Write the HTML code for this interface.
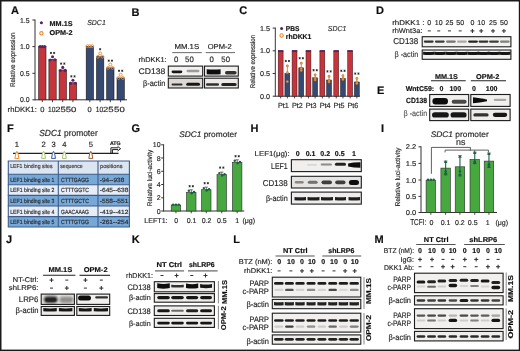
<!DOCTYPE html>
<html><head><meta charset="utf-8"><title>Figure</title>
<style>
html,body{margin:0;padding:0;background:#fff;}
body{width:520px;height:351px;overflow:hidden;}
svg{display:block;font-family:"Liberation Sans",sans-serif;}
text{stroke-width:0.16px;text-rendering:geometricPrecision;}
</style></head><body>
<svg width="520" height="351" viewBox="0 0 520 351">
<defs>
<filter id="gb" x="0" y="0" width="520" height="351" filterUnits="userSpaceOnUse"><feGaussianBlur stdDeviation="0.35"/></filter>
<filter id="b1" x="-50%" y="-200%" width="200%" height="500%"><feGaussianBlur stdDeviation="0.7"/></filter>
<filter id="b2" x="-50%" y="-200%" width="200%" height="500%"><feGaussianBlur stdDeviation="1.1"/></filter>
</defs>
<rect x="0" y="0" width="520" height="351" fill="#fff"/>
<g filter="url(#gb)">
<text x="11" y="13.8" font-size="11" font-weight="bold" fill="#111" stroke="#111" stroke-width="0.35">A</text>
<line x1="35" y1="19.5" x2="35" y2="100.3" stroke="#333" stroke-width="1" />
<line x1="32.4" y1="20" x2="35" y2="20" stroke="#333" stroke-width="1" />
<text x="29.6" y="22.5" font-size="7" text-anchor="end" fill="#262626" stroke="#262626" textLength="9.6" lengthAdjust="spacingAndGlyphs">1.5</text>
<line x1="32.4" y1="46.6" x2="35" y2="46.6" stroke="#333" stroke-width="1" />
<text x="29.6" y="49.1" font-size="7" text-anchor="end" fill="#262626" stroke="#262626" textLength="9.6" lengthAdjust="spacingAndGlyphs">1.0</text>
<line x1="32.4" y1="73.3" x2="35" y2="73.3" stroke="#333" stroke-width="1" />
<text x="29.6" y="75.8" font-size="7" text-anchor="end" fill="#262626" stroke="#262626" textLength="9.6" lengthAdjust="spacingAndGlyphs">0.5</text>
<line x1="32.4" y1="99.8" x2="35" y2="99.8" stroke="#333" stroke-width="1" />
<text x="29.6" y="102.3" font-size="7" text-anchor="end" fill="#262626" stroke="#262626" textLength="9.6" lengthAdjust="spacingAndGlyphs">0.0</text>
<line x1="35" y1="99.8" x2="127" y2="99.8" stroke="#333" stroke-width="1" />
<text x="14.83" y="59.8" font-size="6.8" text-anchor="middle" transform="rotate(-90 14.83 59.8)" fill="#262626" stroke="#262626" textLength="54.5" lengthAdjust="spacingAndGlyphs">Relative expression</text>
<rect x="38.7" y="46.6" width="7.3" height="53.2" fill="#c6343a" stroke="#2a1a1a" stroke-width="0.6"/>
<rect x="48.9" y="59.37" width="7.3" height="40.43" fill="#c6343a" stroke="#2a1a1a" stroke-width="0.6"/>
<rect x="59.1" y="70.01" width="7.3" height="29.79" fill="#c6343a" stroke="#2a1a1a" stroke-width="0.6"/>
<rect x="69.3" y="82.78" width="7.3" height="17.02" fill="#c6343a" stroke="#2a1a1a" stroke-width="0.6"/>
<rect x="86.2" y="46.6" width="7.3" height="53.2" fill="#344a72" stroke="#1a1a1a" stroke-width="0.6"/>
<rect x="96.5" y="56.71" width="7.3" height="43.09" fill="#344a72" stroke="#1a1a1a" stroke-width="0.6"/>
<rect x="106.7" y="67.88" width="7.3" height="31.92" fill="#344a72" stroke="#1a1a1a" stroke-width="0.6"/>
<rect x="117" y="77.99" width="7.3" height="21.81" fill="#344a72" stroke="#1a1a1a" stroke-width="0.6"/>
<circle cx="40.05" cy="46.6" r="1.55" fill="#55275f"/>
<circle cx="42.35" cy="46.6" r="1.55" fill="#55275f"/>
<circle cx="44.65" cy="46.6" r="1.55" fill="#55275f"/>
<circle cx="50.15" cy="59.97" r="1.55" fill="#55275f"/>
<circle cx="52.55" cy="56.77" r="1.55" fill="#55275f"/>
<circle cx="54.95" cy="59.77" r="1.55" fill="#55275f"/>
<circle cx="60.35" cy="70.61" r="1.55" fill="#55275f"/>
<circle cx="62.75" cy="67.41" r="1.55" fill="#55275f"/>
<circle cx="65.15" cy="70.41" r="1.55" fill="#55275f"/>
<circle cx="70.55" cy="83.38" r="1.55" fill="#55275f"/>
<circle cx="72.95" cy="80.18" r="1.55" fill="#55275f"/>
<circle cx="75.35" cy="83.18" r="1.55" fill="#55275f"/>
<circle cx="87.45" cy="46.2" r="1.45" fill="none" stroke="#ec8a2c" stroke-width="0.9"/>
<circle cx="89.85" cy="46.2" r="1.45" fill="none" stroke="#ec8a2c" stroke-width="0.9"/>
<circle cx="92.25" cy="46.2" r="1.45" fill="none" stroke="#ec8a2c" stroke-width="0.9"/>
<circle cx="97.95" cy="56.71" r="1.45" fill="none" stroke="#ec8a2c" stroke-width="0.9"/>
<circle cx="100.15" cy="53.41" r="1.45" fill="none" stroke="#ec8a2c" stroke-width="0.9"/>
<circle cx="102.35" cy="56.71" r="1.45" fill="none" stroke="#ec8a2c" stroke-width="0.9"/>
<circle cx="108.15" cy="67.88" r="1.45" fill="none" stroke="#ec8a2c" stroke-width="0.9"/>
<circle cx="110.35" cy="64.58" r="1.45" fill="none" stroke="#ec8a2c" stroke-width="0.9"/>
<circle cx="112.55" cy="67.88" r="1.45" fill="none" stroke="#ec8a2c" stroke-width="0.9"/>
<circle cx="118.45" cy="77.99" r="1.45" fill="none" stroke="#ec8a2c" stroke-width="0.9"/>
<circle cx="120.65" cy="74.69" r="1.45" fill="none" stroke="#ec8a2c" stroke-width="0.9"/>
<circle cx="122.85" cy="77.99" r="1.45" fill="none" stroke="#ec8a2c" stroke-width="0.9"/>
<line x1="50.95" y1="51.87" x2="50.95" y2="54.07" stroke="#222" stroke-width="0.75" transform="rotate(0 50.95 52.97)"/>
<line x1="50.95" y1="51.87" x2="50.95" y2="54.07" stroke="#222" stroke-width="0.75" transform="rotate(60 50.95 52.97)"/>
<line x1="50.95" y1="51.87" x2="50.95" y2="54.07" stroke="#222" stroke-width="0.75" transform="rotate(120 50.95 52.97)"/>
<line x1="54.15" y1="51.87" x2="54.15" y2="54.07" stroke="#222" stroke-width="0.75" transform="rotate(0 54.15 52.97)"/>
<line x1="54.15" y1="51.87" x2="54.15" y2="54.07" stroke="#222" stroke-width="0.75" transform="rotate(60 54.15 52.97)"/>
<line x1="54.15" y1="51.87" x2="54.15" y2="54.07" stroke="#222" stroke-width="0.75" transform="rotate(120 54.15 52.97)"/>
<line x1="61.15" y1="62.51" x2="61.15" y2="64.71" stroke="#222" stroke-width="0.75" transform="rotate(0 61.15 63.61)"/>
<line x1="61.15" y1="62.51" x2="61.15" y2="64.71" stroke="#222" stroke-width="0.75" transform="rotate(60 61.15 63.61)"/>
<line x1="61.15" y1="62.51" x2="61.15" y2="64.71" stroke="#222" stroke-width="0.75" transform="rotate(120 61.15 63.61)"/>
<line x1="64.35" y1="62.51" x2="64.35" y2="64.71" stroke="#222" stroke-width="0.75" transform="rotate(0 64.35 63.61)"/>
<line x1="64.35" y1="62.51" x2="64.35" y2="64.71" stroke="#222" stroke-width="0.75" transform="rotate(60 64.35 63.61)"/>
<line x1="64.35" y1="62.51" x2="64.35" y2="64.71" stroke="#222" stroke-width="0.75" transform="rotate(120 64.35 63.61)"/>
<line x1="71.35" y1="75.28" x2="71.35" y2="77.48" stroke="#222" stroke-width="0.75" transform="rotate(0 71.35 76.38)"/>
<line x1="71.35" y1="75.28" x2="71.35" y2="77.48" stroke="#222" stroke-width="0.75" transform="rotate(60 71.35 76.38)"/>
<line x1="71.35" y1="75.28" x2="71.35" y2="77.48" stroke="#222" stroke-width="0.75" transform="rotate(120 71.35 76.38)"/>
<line x1="74.55" y1="75.28" x2="74.55" y2="77.48" stroke="#222" stroke-width="0.75" transform="rotate(0 74.55 76.38)"/>
<line x1="74.55" y1="75.28" x2="74.55" y2="77.48" stroke="#222" stroke-width="0.75" transform="rotate(60 74.55 76.38)"/>
<line x1="74.55" y1="75.28" x2="74.55" y2="77.48" stroke="#222" stroke-width="0.75" transform="rotate(120 74.55 76.38)"/>
<line x1="100.15" y1="48.11" x2="100.15" y2="50.31" stroke="#222" stroke-width="0.75" transform="rotate(0 100.15 49.21)"/>
<line x1="100.15" y1="48.11" x2="100.15" y2="50.31" stroke="#222" stroke-width="0.75" transform="rotate(60 100.15 49.21)"/>
<line x1="100.15" y1="48.11" x2="100.15" y2="50.31" stroke="#222" stroke-width="0.75" transform="rotate(120 100.15 49.21)"/>
<line x1="108.75" y1="59.58" x2="108.75" y2="61.78" stroke="#222" stroke-width="0.75" transform="rotate(0 108.75 60.68)"/>
<line x1="108.75" y1="59.58" x2="108.75" y2="61.78" stroke="#222" stroke-width="0.75" transform="rotate(60 108.75 60.68)"/>
<line x1="108.75" y1="59.58" x2="108.75" y2="61.78" stroke="#222" stroke-width="0.75" transform="rotate(120 108.75 60.68)"/>
<line x1="111.95" y1="59.58" x2="111.95" y2="61.78" stroke="#222" stroke-width="0.75" transform="rotate(0 111.95 60.68)"/>
<line x1="111.95" y1="59.58" x2="111.95" y2="61.78" stroke="#222" stroke-width="0.75" transform="rotate(60 111.95 60.68)"/>
<line x1="111.95" y1="59.58" x2="111.95" y2="61.78" stroke="#222" stroke-width="0.75" transform="rotate(120 111.95 60.68)"/>
<line x1="119.05" y1="69.69" x2="119.05" y2="71.89" stroke="#222" stroke-width="0.75" transform="rotate(0 119.05 70.79)"/>
<line x1="119.05" y1="69.69" x2="119.05" y2="71.89" stroke="#222" stroke-width="0.75" transform="rotate(60 119.05 70.79)"/>
<line x1="119.05" y1="69.69" x2="119.05" y2="71.89" stroke="#222" stroke-width="0.75" transform="rotate(120 119.05 70.79)"/>
<line x1="122.25" y1="69.69" x2="122.25" y2="71.89" stroke="#222" stroke-width="0.75" transform="rotate(0 122.25 70.79)"/>
<line x1="122.25" y1="69.69" x2="122.25" y2="71.89" stroke="#222" stroke-width="0.75" transform="rotate(60 122.25 70.79)"/>
<line x1="122.25" y1="69.69" x2="122.25" y2="71.89" stroke="#222" stroke-width="0.75" transform="rotate(120 122.25 70.79)"/>
<line x1="42.3" y1="99.8" x2="42.3" y2="102.2" stroke="#333" stroke-width="0.9" />
<line x1="52.5" y1="99.8" x2="52.5" y2="102.2" stroke="#333" stroke-width="0.9" />
<line x1="62.7" y1="99.8" x2="62.7" y2="102.2" stroke="#333" stroke-width="0.9" />
<line x1="72.9" y1="99.8" x2="72.9" y2="102.2" stroke="#333" stroke-width="0.9" />
<line x1="89.8" y1="99.8" x2="89.8" y2="102.2" stroke="#333" stroke-width="0.9" />
<line x1="100.1" y1="99.8" x2="100.1" y2="102.2" stroke="#333" stroke-width="0.9" />
<line x1="110.3" y1="99.8" x2="110.3" y2="102.2" stroke="#333" stroke-width="0.9" />
<line x1="120.6" y1="99.8" x2="120.6" y2="102.2" stroke="#333" stroke-width="0.9" />
<text x="42.25" y="111.6" font-size="7.5" text-anchor="middle" fill="#262626" stroke="#262626">0</text>
<text x="51.75" y="111.6" font-size="7.5" text-anchor="middle" fill="#262626" stroke="#262626" textLength="7.4" lengthAdjust="spacingAndGlyphs">10</text>
<text x="60.5" y="111.6" font-size="7.5" text-anchor="middle" fill="#262626" stroke="#262626" textLength="10.6" lengthAdjust="spacingAndGlyphs">25</text>
<text x="71.1" y="111.6" font-size="7.5" text-anchor="middle" fill="#262626" stroke="#262626" textLength="10.6" lengthAdjust="spacingAndGlyphs">50</text>
<text x="89.5" y="111.6" font-size="7.5" text-anchor="middle" fill="#262626" stroke="#262626">0</text>
<text x="99.5" y="111.6" font-size="7.5" text-anchor="middle" fill="#262626" stroke="#262626" textLength="7.4" lengthAdjust="spacingAndGlyphs">10</text>
<text x="108.3" y="111.6" font-size="7.5" text-anchor="middle" fill="#262626" stroke="#262626" textLength="10.6" lengthAdjust="spacingAndGlyphs">25</text>
<text x="119.4" y="111.6" font-size="7.5" text-anchor="middle" fill="#262626" stroke="#262626" textLength="10.6" lengthAdjust="spacingAndGlyphs">50</text>
<text x="7.6" y="111.7" font-size="7.4" fill="#262626" stroke="#262626" textLength="29.2" lengthAdjust="spacingAndGlyphs">rhDKK1:</text>
<circle cx="41.4" cy="22.8" r="1.55" fill="#55275f"/>
<text x="49.6" y="26.3" font-size="7" font-weight="bold" fill="#111" stroke="#111" textLength="22.9" lengthAdjust="spacingAndGlyphs">MM.1S</text>
<circle cx="41.4" cy="33.3" r="1.7" fill="none" stroke="#ec8a2c" stroke-width="1.1"/>
<text x="49.6" y="35.1" font-size="7" font-weight="bold" fill="#111" stroke="#111" textLength="22.9" lengthAdjust="spacingAndGlyphs">OPM-2</text>
<text x="87.2" y="25.3" font-size="7.3" font-style="italic" fill="#333" stroke="#333" textLength="18.6" lengthAdjust="spacingAndGlyphs">SDC1</text>
<text x="131.5" y="16" font-size="11" font-weight="bold" fill="#111" stroke="#111" stroke-width="0.35">B</text>
<text x="174.4" y="49.2" font-size="7.2" fill="#262626" stroke="#262626" textLength="24.8" lengthAdjust="spacingAndGlyphs">MM.1S</text>
<line x1="172.2" y1="52.6" x2="201.8" y2="52.6" stroke="#777" stroke-width="1.1" />
<text x="207.7" y="49.2" font-size="7.2" fill="#262626" stroke="#262626" textLength="24" lengthAdjust="spacingAndGlyphs">OPM-2</text>
<line x1="205.7" y1="52.6" x2="235" y2="52.6" stroke="#777" stroke-width="1.1" />
<text x="138.6" y="61.8" font-size="7" fill="#262626" stroke="#262626" textLength="28" lengthAdjust="spacingAndGlyphs">rhDKK1:</text>
<text x="176.2" y="61.6" font-size="7.8" text-anchor="middle" fill="#262626" stroke="#262626">0</text>
<text x="189.4" y="61.6" font-size="7.8" text-anchor="middle" fill="#262626" stroke="#262626">50</text>
<text x="211.6" y="61.6" font-size="7.8" text-anchor="middle" fill="#262626" stroke="#262626">0</text>
<text x="225.7" y="61.6" font-size="7.8" text-anchor="middle" fill="#262626" stroke="#262626">50</text>
<text x="138.5" y="74.3" font-size="8.2" fill="#262626" stroke="#262626" textLength="26.8" lengthAdjust="spacingAndGlyphs">CD138</text>
<text x="143" y="86" font-size="8" fill="#262626" stroke="#262626" textLength="22.3" lengthAdjust="spacingAndGlyphs">&#946;-actin</text>
<rect x="168.3" y="66.1" width="34.4" height="10" fill="#f3f1ef" stroke="#1c1c1c" stroke-width="1.1"/>
<rect x="204.5" y="66.1" width="33.8" height="10" fill="#f1efed" stroke="#1c1c1c" stroke-width="1.1"/>
<rect x="168.3" y="78.2" width="34.4" height="9.8" fill="#dcd8d4" stroke="#1c1c1c" stroke-width="1.1"/>
<rect x="204.5" y="78.2" width="33.8" height="9.8" fill="#ebe8e5" stroke="#1c1c1c" stroke-width="1.1"/>
<rect x="171.6" y="70.4" width="10.7" height="2.8" rx="1.4" fill="#111" fill-opacity="0.95" filter="url(#b1)"/>
<rect x="186.6" y="69.8" width="12.8" height="2.4" rx="1.2" fill="#111" fill-opacity="0.4" filter="url(#b1)"/>
<path d="M206.7 69.2 Q213.65 70 220.6 69.2 L220.6 74.2 Q213.65 74.8 206.7 74.2 Z" fill="#111" fill-opacity="1" filter="url(#b1)"/>
<rect x="225" y="71" width="11.6" height="3.6" rx="1.8" fill="#111" fill-opacity="0.85" filter="url(#b1)"/>
<rect x="171.6" y="83.4" width="10.9" height="2.2" rx="1.1" fill="#111" fill-opacity="0.85" filter="url(#b1)"/>
<rect x="186.2" y="82.8" width="13.8" height="3" rx="1.5" fill="#111" fill-opacity="0.95" filter="url(#b1)"/>
<rect x="206" y="83.3" width="13" height="2.4" rx="1.2" fill="#111" fill-opacity="0.85" filter="url(#b1)"/>
<rect x="221.3" y="83" width="15.3" height="3" rx="1.5" fill="#111" fill-opacity="0.9" filter="url(#b1)"/>
<text x="239.3" y="13.8" font-size="11" font-weight="bold" fill="#111" stroke="#111" stroke-width="0.35">C</text>
<line x1="275.3" y1="27.6" x2="275.3" y2="96.7" stroke="#333" stroke-width="1" />
<line x1="272.7" y1="28.1" x2="275.3" y2="28.1" stroke="#333" stroke-width="1" />
<text x="270.1" y="30.6" font-size="7" text-anchor="end" fill="#262626" stroke="#262626" textLength="10" lengthAdjust="spacingAndGlyphs">1.5</text>
<line x1="272.7" y1="50.8" x2="275.3" y2="50.8" stroke="#333" stroke-width="1" />
<text x="270.1" y="53.3" font-size="7" text-anchor="end" fill="#262626" stroke="#262626" textLength="10" lengthAdjust="spacingAndGlyphs">1.0</text>
<line x1="272.7" y1="73.5" x2="275.3" y2="73.5" stroke="#333" stroke-width="1" />
<text x="270.1" y="76" font-size="7" text-anchor="end" fill="#262626" stroke="#262626" textLength="10" lengthAdjust="spacingAndGlyphs">0.5</text>
<line x1="272.7" y1="96.2" x2="275.3" y2="96.2" stroke="#333" stroke-width="1" />
<text x="270.1" y="98.7" font-size="7" text-anchor="end" fill="#262626" stroke="#262626" textLength="10" lengthAdjust="spacingAndGlyphs">0.0</text>
<line x1="275.3" y1="96.2" x2="360" y2="96.2" stroke="#333" stroke-width="1" />
<text x="254.93" y="61.5" font-size="6.8" text-anchor="middle" transform="rotate(-90 254.93 61.5)" fill="#262626" stroke="#262626" textLength="53.4" lengthAdjust="spacingAndGlyphs">Relative expression</text>
<rect x="278.2" y="50.8" width="4.9" height="45.4" fill="#c6343a" stroke="#2a1a1a" stroke-width="0.5"/>
<rect x="278" y="50.2" width="5.3" height="1.8" fill="#55275f"/>
<rect x="284.9" y="73.5" width="4.9" height="22.7" fill="#344a72" stroke="#1a1a1a" stroke-width="0.5"/>
<line x1="287.35" y1="65.6" x2="287.35" y2="74" stroke="#555" stroke-width="0.6" />
<line x1="286.35" y1="65.6" x2="288.35" y2="65.6" stroke="#555" stroke-width="0.6" />
<circle cx="287.35" cy="65.8" r="1.15" fill="#f0a040" stroke="#c86a1a" stroke-width="0.5"/>
<circle cx="287.35" cy="72.6" r="1.15" fill="#f0a040" stroke="#c86a1a" stroke-width="0.5"/>
<circle cx="287.35" cy="81.6" r="1.15" fill="#f0a040" stroke="#c86a1a" stroke-width="0.5"/>
<line x1="285.75" y1="59.9" x2="285.75" y2="62.1" stroke="#222" stroke-width="0.75" transform="rotate(0 285.75 61)"/>
<line x1="285.75" y1="59.9" x2="285.75" y2="62.1" stroke="#222" stroke-width="0.75" transform="rotate(60 285.75 61)"/>
<line x1="285.75" y1="59.9" x2="285.75" y2="62.1" stroke="#222" stroke-width="0.75" transform="rotate(120 285.75 61)"/>
<line x1="288.95" y1="59.9" x2="288.95" y2="62.1" stroke="#222" stroke-width="0.75" transform="rotate(0 288.95 61)"/>
<line x1="288.95" y1="59.9" x2="288.95" y2="62.1" stroke="#222" stroke-width="0.75" transform="rotate(60 288.95 61)"/>
<line x1="288.95" y1="59.9" x2="288.95" y2="62.1" stroke="#222" stroke-width="0.75" transform="rotate(120 288.95 61)"/>
<line x1="280.65" y1="96.2" x2="280.65" y2="98.4" stroke="#333" stroke-width="0.9" />
<line x1="287.35" y1="96.2" x2="287.35" y2="98.4" stroke="#333" stroke-width="0.9" />
<text x="283.4" y="107.6" font-size="7.4" text-anchor="middle" fill="#262626" stroke="#262626" textLength="10.8" lengthAdjust="spacingAndGlyphs">Pt1</text>
<rect x="292.1" y="50.8" width="4.9" height="45.4" fill="#c6343a" stroke="#2a1a1a" stroke-width="0.5"/>
<rect x="291.9" y="50.2" width="5.3" height="1.8" fill="#55275f"/>
<rect x="298.8" y="67.8" width="4.9" height="28.4" fill="#344a72" stroke="#1a1a1a" stroke-width="0.5"/>
<line x1="301.25" y1="62.8" x2="301.25" y2="68.3" stroke="#555" stroke-width="0.6" />
<line x1="300.25" y1="62.8" x2="302.25" y2="62.8" stroke="#555" stroke-width="0.6" />
<circle cx="301.25" cy="63.2" r="1.15" fill="#f0a040" stroke="#c86a1a" stroke-width="0.5"/>
<circle cx="301.25" cy="68.6" r="1.15" fill="#f0a040" stroke="#c86a1a" stroke-width="0.5"/>
<circle cx="301.25" cy="70.5" r="1.15" fill="#f0a040" stroke="#c86a1a" stroke-width="0.5"/>
<line x1="299.65" y1="57.1" x2="299.65" y2="59.3" stroke="#222" stroke-width="0.75" transform="rotate(0 299.65 58.2)"/>
<line x1="299.65" y1="57.1" x2="299.65" y2="59.3" stroke="#222" stroke-width="0.75" transform="rotate(60 299.65 58.2)"/>
<line x1="299.65" y1="57.1" x2="299.65" y2="59.3" stroke="#222" stroke-width="0.75" transform="rotate(120 299.65 58.2)"/>
<line x1="302.85" y1="57.1" x2="302.85" y2="59.3" stroke="#222" stroke-width="0.75" transform="rotate(0 302.85 58.2)"/>
<line x1="302.85" y1="57.1" x2="302.85" y2="59.3" stroke="#222" stroke-width="0.75" transform="rotate(60 302.85 58.2)"/>
<line x1="302.85" y1="57.1" x2="302.85" y2="59.3" stroke="#222" stroke-width="0.75" transform="rotate(120 302.85 58.2)"/>
<line x1="294.55" y1="96.2" x2="294.55" y2="98.4" stroke="#333" stroke-width="0.9" />
<line x1="301.25" y1="96.2" x2="301.25" y2="98.4" stroke="#333" stroke-width="0.9" />
<text x="297.3" y="107.6" font-size="7.4" text-anchor="middle" fill="#262626" stroke="#262626" textLength="10.8" lengthAdjust="spacingAndGlyphs">Pt2</text>
<rect x="306" y="50.8" width="4.9" height="45.4" fill="#c6343a" stroke="#2a1a1a" stroke-width="0.5"/>
<rect x="305.8" y="50.2" width="5.3" height="1.8" fill="#55275f"/>
<rect x="312.7" y="77.8" width="4.9" height="18.4" fill="#344a72" stroke="#1a1a1a" stroke-width="0.5"/>
<line x1="315.15" y1="74.8" x2="315.15" y2="78.3" stroke="#555" stroke-width="0.6" />
<line x1="314.15" y1="74.8" x2="316.15" y2="74.8" stroke="#555" stroke-width="0.6" />
<circle cx="315.15" cy="74.8" r="1.15" fill="#f0a040" stroke="#c86a1a" stroke-width="0.5"/>
<circle cx="315.15" cy="78.2" r="1.15" fill="#f0a040" stroke="#c86a1a" stroke-width="0.5"/>
<circle cx="315.15" cy="80" r="1.15" fill="#f0a040" stroke="#c86a1a" stroke-width="0.5"/>
<line x1="313.55" y1="69.1" x2="313.55" y2="71.3" stroke="#222" stroke-width="0.75" transform="rotate(0 313.55 70.2)"/>
<line x1="313.55" y1="69.1" x2="313.55" y2="71.3" stroke="#222" stroke-width="0.75" transform="rotate(60 313.55 70.2)"/>
<line x1="313.55" y1="69.1" x2="313.55" y2="71.3" stroke="#222" stroke-width="0.75" transform="rotate(120 313.55 70.2)"/>
<line x1="316.75" y1="69.1" x2="316.75" y2="71.3" stroke="#222" stroke-width="0.75" transform="rotate(0 316.75 70.2)"/>
<line x1="316.75" y1="69.1" x2="316.75" y2="71.3" stroke="#222" stroke-width="0.75" transform="rotate(60 316.75 70.2)"/>
<line x1="316.75" y1="69.1" x2="316.75" y2="71.3" stroke="#222" stroke-width="0.75" transform="rotate(120 316.75 70.2)"/>
<line x1="308.45" y1="96.2" x2="308.45" y2="98.4" stroke="#333" stroke-width="0.9" />
<line x1="315.15" y1="96.2" x2="315.15" y2="98.4" stroke="#333" stroke-width="0.9" />
<text x="311.2" y="107.6" font-size="7.4" text-anchor="middle" fill="#262626" stroke="#262626" textLength="10.8" lengthAdjust="spacingAndGlyphs">Pt3</text>
<rect x="319.9" y="50.8" width="4.9" height="45.4" fill="#c6343a" stroke="#2a1a1a" stroke-width="0.5"/>
<rect x="319.7" y="50.2" width="5.3" height="1.8" fill="#55275f"/>
<rect x="326.6" y="80" width="4.9" height="16.2" fill="#344a72" stroke="#1a1a1a" stroke-width="0.5"/>
<line x1="329.05" y1="76" x2="329.05" y2="80.5" stroke="#555" stroke-width="0.6" />
<line x1="328.05" y1="76" x2="330.05" y2="76" stroke="#555" stroke-width="0.6" />
<circle cx="329.05" cy="76.3" r="1.15" fill="#f0a040" stroke="#c86a1a" stroke-width="0.5"/>
<circle cx="329.05" cy="80.4" r="1.15" fill="#f0a040" stroke="#c86a1a" stroke-width="0.5"/>
<circle cx="329.05" cy="82" r="1.15" fill="#f0a040" stroke="#c86a1a" stroke-width="0.5"/>
<line x1="327.45" y1="70.3" x2="327.45" y2="72.5" stroke="#222" stroke-width="0.75" transform="rotate(0 327.45 71.4)"/>
<line x1="327.45" y1="70.3" x2="327.45" y2="72.5" stroke="#222" stroke-width="0.75" transform="rotate(60 327.45 71.4)"/>
<line x1="327.45" y1="70.3" x2="327.45" y2="72.5" stroke="#222" stroke-width="0.75" transform="rotate(120 327.45 71.4)"/>
<line x1="330.65" y1="70.3" x2="330.65" y2="72.5" stroke="#222" stroke-width="0.75" transform="rotate(0 330.65 71.4)"/>
<line x1="330.65" y1="70.3" x2="330.65" y2="72.5" stroke="#222" stroke-width="0.75" transform="rotate(60 330.65 71.4)"/>
<line x1="330.65" y1="70.3" x2="330.65" y2="72.5" stroke="#222" stroke-width="0.75" transform="rotate(120 330.65 71.4)"/>
<line x1="322.35" y1="96.2" x2="322.35" y2="98.4" stroke="#333" stroke-width="0.9" />
<line x1="329.05" y1="96.2" x2="329.05" y2="98.4" stroke="#333" stroke-width="0.9" />
<text x="325.1" y="107.6" font-size="7.4" text-anchor="middle" fill="#262626" stroke="#262626" textLength="10.8" lengthAdjust="spacingAndGlyphs">Pt4</text>
<rect x="333.8" y="50.8" width="4.9" height="45.4" fill="#c6343a" stroke="#2a1a1a" stroke-width="0.5"/>
<rect x="333.6" y="50.2" width="5.3" height="1.8" fill="#55275f"/>
<rect x="340.5" y="78.5" width="4.9" height="17.7" fill="#344a72" stroke="#1a1a1a" stroke-width="0.5"/>
<line x1="342.95" y1="75.4" x2="342.95" y2="79" stroke="#555" stroke-width="0.6" />
<line x1="341.95" y1="75.4" x2="343.95" y2="75.4" stroke="#555" stroke-width="0.6" />
<circle cx="342.95" cy="75.6" r="1.15" fill="#f0a040" stroke="#c86a1a" stroke-width="0.5"/>
<circle cx="342.95" cy="78.4" r="1.15" fill="#f0a040" stroke="#c86a1a" stroke-width="0.5"/>
<circle cx="342.95" cy="79.5" r="1.15" fill="#f0a040" stroke="#c86a1a" stroke-width="0.5"/>
<line x1="341.35" y1="69.7" x2="341.35" y2="71.9" stroke="#222" stroke-width="0.75" transform="rotate(0 341.35 70.8)"/>
<line x1="341.35" y1="69.7" x2="341.35" y2="71.9" stroke="#222" stroke-width="0.75" transform="rotate(60 341.35 70.8)"/>
<line x1="341.35" y1="69.7" x2="341.35" y2="71.9" stroke="#222" stroke-width="0.75" transform="rotate(120 341.35 70.8)"/>
<line x1="344.55" y1="69.7" x2="344.55" y2="71.9" stroke="#222" stroke-width="0.75" transform="rotate(0 344.55 70.8)"/>
<line x1="344.55" y1="69.7" x2="344.55" y2="71.9" stroke="#222" stroke-width="0.75" transform="rotate(60 344.55 70.8)"/>
<line x1="344.55" y1="69.7" x2="344.55" y2="71.9" stroke="#222" stroke-width="0.75" transform="rotate(120 344.55 70.8)"/>
<line x1="336.25" y1="96.2" x2="336.25" y2="98.4" stroke="#333" stroke-width="0.9" />
<line x1="342.95" y1="96.2" x2="342.95" y2="98.4" stroke="#333" stroke-width="0.9" />
<text x="339" y="107.6" font-size="7.4" text-anchor="middle" fill="#262626" stroke="#262626" textLength="10.8" lengthAdjust="spacingAndGlyphs">Pt5</text>
<rect x="347.7" y="50.8" width="4.9" height="45.4" fill="#c6343a" stroke="#2a1a1a" stroke-width="0.5"/>
<rect x="347.5" y="50.2" width="5.3" height="1.8" fill="#55275f"/>
<rect x="354.4" y="82" width="4.9" height="14.2" fill="#344a72" stroke="#1a1a1a" stroke-width="0.5"/>
<line x1="356.85" y1="78.2" x2="356.85" y2="82.5" stroke="#555" stroke-width="0.6" />
<line x1="355.85" y1="78.2" x2="357.85" y2="78.2" stroke="#555" stroke-width="0.6" />
<circle cx="356.85" cy="78.4" r="1.15" fill="#f0a040" stroke="#c86a1a" stroke-width="0.5"/>
<circle cx="356.85" cy="82" r="1.15" fill="#f0a040" stroke="#c86a1a" stroke-width="0.5"/>
<circle cx="356.85" cy="83.5" r="1.15" fill="#f0a040" stroke="#c86a1a" stroke-width="0.5"/>
<line x1="355.25" y1="72.5" x2="355.25" y2="74.7" stroke="#222" stroke-width="0.75" transform="rotate(0 355.25 73.6)"/>
<line x1="355.25" y1="72.5" x2="355.25" y2="74.7" stroke="#222" stroke-width="0.75" transform="rotate(60 355.25 73.6)"/>
<line x1="355.25" y1="72.5" x2="355.25" y2="74.7" stroke="#222" stroke-width="0.75" transform="rotate(120 355.25 73.6)"/>
<line x1="358.45" y1="72.5" x2="358.45" y2="74.7" stroke="#222" stroke-width="0.75" transform="rotate(0 358.45 73.6)"/>
<line x1="358.45" y1="72.5" x2="358.45" y2="74.7" stroke="#222" stroke-width="0.75" transform="rotate(60 358.45 73.6)"/>
<line x1="358.45" y1="72.5" x2="358.45" y2="74.7" stroke="#222" stroke-width="0.75" transform="rotate(120 358.45 73.6)"/>
<line x1="350.15" y1="96.2" x2="350.15" y2="98.4" stroke="#333" stroke-width="0.9" />
<line x1="356.85" y1="96.2" x2="356.85" y2="98.4" stroke="#333" stroke-width="0.9" />
<text x="352.9" y="107.6" font-size="7.4" text-anchor="middle" fill="#262626" stroke="#262626" textLength="10.8" lengthAdjust="spacingAndGlyphs">Pt6</text>
<circle cx="281.6" cy="28.5" r="1.55" fill="#55275f"/>
<text x="285.8" y="30.9" font-size="7" font-weight="bold" fill="#111" stroke="#111" textLength="13.5" lengthAdjust="spacingAndGlyphs">PBS</text>
<circle cx="281.6" cy="35.5" r="1.7" fill="none" stroke="#ec8a2c" stroke-width="1.1"/>
<text x="285.8" y="38.5" font-size="7" font-weight="bold" fill="#111" stroke="#111" textLength="25.6" lengthAdjust="spacingAndGlyphs">rhDKK1</text>
<text x="327.8" y="31.4" font-size="7.2" font-style="italic" fill="#333" stroke="#333" textLength="18.6" lengthAdjust="spacingAndGlyphs">SDC1</text>
<text x="376" y="13.8" font-size="11" font-weight="bold" fill="#111" stroke="#111" stroke-width="0.35">D</text>
<text x="392.2" y="25" font-size="7" fill="#262626" stroke="#262626" textLength="32.3" lengthAdjust="spacingAndGlyphs">rhDKK1 :</text>
<text x="392.2" y="33.3" font-size="7" fill="#262626" stroke="#262626" textLength="30.3" lengthAdjust="spacingAndGlyphs">rhWnt3a:</text>
<text x="429.3" y="25" font-size="7" text-anchor="middle" fill="#262626" stroke="#262626">0</text>
<line x1="427.8" y1="30.9" x2="430.8" y2="30.9" stroke="#303030" stroke-width="1" />
<text x="438.7" y="25" font-size="7" text-anchor="middle" fill="#262626" stroke="#262626">10</text>
<line x1="437.2" y1="30.9" x2="440.2" y2="30.9" stroke="#303030" stroke-width="1" />
<text x="449.5" y="25" font-size="7" text-anchor="middle" fill="#262626" stroke="#262626">25</text>
<line x1="448" y1="30.9" x2="451" y2="30.9" stroke="#303030" stroke-width="1" />
<text x="460.2" y="25" font-size="7" text-anchor="middle" fill="#262626" stroke="#262626">50</text>
<line x1="458.7" y1="30.9" x2="461.7" y2="30.9" stroke="#303030" stroke-width="1" />
<text x="472.4" y="25" font-size="7" text-anchor="middle" fill="#262626" stroke="#262626">0</text>
<line x1="470.4" y1="30.9" x2="474.4" y2="30.9" stroke="#303030" stroke-width="1.05" />
<line x1="472.4" y1="28.9" x2="472.4" y2="32.9" stroke="#303030" stroke-width="1.05" />
<text x="481.2" y="25" font-size="7" text-anchor="middle" fill="#262626" stroke="#262626">10</text>
<line x1="479.2" y1="30.9" x2="483.2" y2="30.9" stroke="#303030" stroke-width="1.05" />
<line x1="481.2" y1="28.9" x2="481.2" y2="32.9" stroke="#303030" stroke-width="1.05" />
<text x="493" y="25" font-size="7" text-anchor="middle" fill="#262626" stroke="#262626">25</text>
<line x1="491" y1="30.9" x2="495" y2="30.9" stroke="#303030" stroke-width="1.05" />
<line x1="493" y1="28.9" x2="493" y2="32.9" stroke="#303030" stroke-width="1.05" />
<text x="503.9" y="25" font-size="7" text-anchor="middle" fill="#262626" stroke="#262626">50</text>
<line x1="501.9" y1="30.9" x2="505.9" y2="30.9" stroke="#303030" stroke-width="1.05" />
<line x1="503.9" y1="28.9" x2="503.9" y2="32.9" stroke="#303030" stroke-width="1.05" />
<text x="393.3" y="44.1" font-size="8.5" fill="#262626" stroke="#262626" textLength="25" lengthAdjust="spacingAndGlyphs">CD138</text>
<text x="394.6" y="57" font-size="8" fill="#3a3a3a" stroke="#3a3a3a" textLength="23.7" lengthAdjust="spacingAndGlyphs">&#946; -actin</text>
<rect x="422.2" y="36.7" width="88.7" height="10.1" fill="#f2f1ef" stroke="#1c1c1c" stroke-width="1.1"/>
<rect x="422.2" y="50" width="88.7" height="9.3" fill="#f3f2f0" stroke="#1c1c1c" stroke-width="1.1"/>
<rect x="423.8" y="40.5" width="9.8" height="2.2" rx="1.1" fill="#111" fill-opacity="0.85" filter="url(#b1)"/>
<path d="M423.1 51.75 Q428.7 52.45 434.3 51.75 L434.3 54.73 Q428.7 55.25 423.1 54.73 Z" fill="#111" fill-opacity="0.95" filter="url(#b1)"/>
<rect x="434.9" y="40.5" width="9.8" height="2.2" rx="1.1" fill="#111" fill-opacity="0.8" filter="url(#b1)"/>
<path d="M434.2 51.75 Q439.8 52.45 445.4 51.75 L445.4 54.73 Q439.8 55.25 434.2 54.73 Z" fill="#111" fill-opacity="0.95" filter="url(#b1)"/>
<rect x="446" y="40.5" width="9.8" height="2.2" rx="1.1" fill="#111" fill-opacity="0.55" filter="url(#b1)"/>
<path d="M445.3 51.75 Q450.9 52.45 456.5 51.75 L456.5 54.73 Q450.9 55.25 445.3 54.73 Z" fill="#111" fill-opacity="0.95" filter="url(#b1)"/>
<rect x="457" y="40.5" width="9.8" height="2.2" rx="1.1" fill="#111" fill-opacity="0.3" filter="url(#b1)"/>
<path d="M456.3 51.75 Q461.9 52.45 467.5 51.75 L467.5 54.73 Q461.9 55.25 456.3 54.73 Z" fill="#111" fill-opacity="0.95" filter="url(#b1)"/>
<rect x="468.1" y="40.5" width="9.8" height="2.2" rx="1.1" fill="#111" fill-opacity="0.9" filter="url(#b1)"/>
<path d="M467.4 51.75 Q473 52.45 478.6 51.75 L478.6 54.73 Q473 55.25 467.4 54.73 Z" fill="#111" fill-opacity="0.95" filter="url(#b1)"/>
<rect x="478.6" y="40.5" width="9.8" height="2.2" rx="1.1" fill="#111" fill-opacity="0.85" filter="url(#b1)"/>
<path d="M477.9 51.75 Q483.5 52.45 489.1 51.75 L489.1 54.73 Q483.5 55.25 477.9 54.73 Z" fill="#111" fill-opacity="0.95" filter="url(#b1)"/>
<rect x="489.1" y="40.5" width="9.8" height="2.2" rx="1.1" fill="#111" fill-opacity="0.8" filter="url(#b1)"/>
<path d="M488.4 51.75 Q494 52.45 499.6 51.75 L499.6 54.73 Q494 55.25 488.4 54.73 Z" fill="#111" fill-opacity="0.95" filter="url(#b1)"/>
<rect x="499.9" y="40.5" width="9.8" height="2.2" rx="1.1" fill="#111" fill-opacity="0.5" filter="url(#b1)"/>
<path d="M499.2 51.75 Q504.8 52.45 510.4 51.75 L510.4 54.73 Q504.8 55.25 499.2 54.73 Z" fill="#111" fill-opacity="0.95" filter="url(#b1)"/>
<text x="377" y="94.4" font-size="11" font-weight="bold" fill="#111" stroke="#111" stroke-width="0.35">E</text>
<text x="435" y="78.8" font-size="7" font-weight="bold" fill="#111" stroke="#111" textLength="22.9" lengthAdjust="spacingAndGlyphs">MM.1S</text>
<line x1="431" y1="80.7" x2="465.7" y2="80.7" stroke="#222" stroke-width="1.1" />
<text x="476" y="78.8" font-size="7" font-weight="bold" fill="#111" stroke="#111" textLength="23.4" lengthAdjust="spacingAndGlyphs">OPM-2</text>
<line x1="470.8" y1="80.7" x2="506" y2="80.7" stroke="#222" stroke-width="1.1" />
<text x="405.7" y="91.2" font-size="7" font-weight="bold" fill="#111" stroke="#111" textLength="28.5" lengthAdjust="spacingAndGlyphs">WntC59:</text>
<text x="441.4" y="91.1" font-size="7" text-anchor="middle" font-weight="bold" fill="#111" stroke="#111">0</text>
<text x="455.3" y="91.1" font-size="7" text-anchor="middle" font-weight="bold" fill="#111" stroke="#111">100</text>
<text x="474" y="91.1" font-size="7" text-anchor="middle" font-weight="bold" fill="#111" stroke="#111">0</text>
<text x="491.6" y="91.1" font-size="7" text-anchor="middle" font-weight="bold" fill="#111" stroke="#111">100</text>
<text x="406" y="102.6" font-size="7.5" font-weight="bold" fill="#111" stroke="#111" textLength="21.1" lengthAdjust="spacingAndGlyphs">CD138</text>
<text x="403.5" y="116" font-size="8" fill="#555" stroke="#555" textLength="23.7" lengthAdjust="spacingAndGlyphs" stroke-width="0.05">&#946; -actin</text>
<rect x="429.7" y="94.5" width="39" height="11.9" fill="#f2f0ee" stroke="#1c1c1c" stroke-width="1.1"/>
<rect x="470.8" y="94.5" width="39.3" height="11.9" fill="#f2f0ee" stroke="#1c1c1c" stroke-width="1.1"/>
<rect x="429.7" y="109.1" width="39" height="11.5" fill="#efedeb" stroke="#1c1c1c" stroke-width="1.1"/>
<rect x="470.8" y="109.1" width="39.3" height="11.5" fill="#efedeb" stroke="#1c1c1c" stroke-width="1.1"/>
<rect x="432.4" y="98.1" width="15.6" height="6.4" rx="3.2" fill="#111" fill-opacity="1" filter="url(#b1)"/>
<rect x="451.7" y="99.7" width="14.9" height="4" rx="2" fill="#111" fill-opacity="0.75" filter="url(#b1)"/>
<path d="M473 97.2 Q480 98.2 487 99.6 L487 101.2 Q480 102.6 473 103.2 Z" fill="#111" filter="url(#b1)"/>
<rect x="493.7" y="98.7" width="12.7" height="2.2" rx="1.1" fill="#111" fill-opacity="0.3" filter="url(#b1)"/>
<rect x="432" y="112.2" width="16.8" height="5.4" rx="2.7" fill="#111" fill-opacity="0.97" filter="url(#b1)"/>
<rect x="450.5" y="112.3" width="16.1" height="5.2" rx="2.6" fill="#111" fill-opacity="0.95" filter="url(#b1)"/>
<rect x="473.4" y="113.3" width="15.2" height="3.2" rx="1.6" fill="#111" fill-opacity="0.85" filter="url(#b1)"/>
<rect x="492.8" y="112.7" width="14.4" height="4.2" rx="2.1" fill="#111" fill-opacity="0.95" filter="url(#b1)"/>
<text x="6.9" y="131.5" font-size="11" font-weight="bold" fill="#111" stroke="#111" stroke-width="0.35">F</text>
<text x="39.2" y="135.5" font-size="8.9" fill="#262626" stroke="#262626" textLength="58.5" lengthAdjust="spacingAndGlyphs"><tspan font-style="italic">SDC1</tspan> promoter</text>
<text x="16.9" y="147.2" font-size="7.6" text-anchor="middle" fill="#262626" stroke="#262626">1</text>
<text x="43.5" y="147.2" font-size="7.6" text-anchor="middle" fill="#262626" stroke="#262626">2</text>
<text x="53.5" y="147.2" font-size="7.6" text-anchor="middle" fill="#262626" stroke="#262626">3</text>
<text x="64.3" y="147.2" font-size="7.6" text-anchor="middle" fill="#262626" stroke="#262626">4</text>
<text x="90.8" y="147.2" font-size="7.6" text-anchor="middle" fill="#262626" stroke="#262626">5</text>
<line x1="13" y1="153.3" x2="118.5" y2="153.3" stroke="#222" stroke-width="1.3" />
<path d="M16.9 151.3 L18 153.6 L18.9 158.4 L14.9 158.4 L15.8 153.6 Z" stroke="#f08c2e" stroke-width="1" fill="#fff" stroke-linejoin="round"/>
<path d="M43.5 151.3 L44.6 153.6 L45.5 158.4 L41.5 158.4 L42.4 153.6 Z" stroke="#a9bf72" stroke-width="1" fill="#fff" stroke-linejoin="round"/>
<path d="M53.5 151.3 L54.6 153.6 L55.5 158.4 L51.5 158.4 L52.4 153.6 Z" stroke="#3b5a98" stroke-width="1" fill="#fff" stroke-linejoin="round"/>
<path d="M64.3 151.3 L65.4 153.6 L66.3 158.4 L62.3 158.4 L63.2 153.6 Z" stroke="#a9bf72" stroke-width="1" fill="#fff" stroke-linejoin="round"/>
<path d="M90.8 151.3 L91.9 153.6 L92.8 158.4 L88.8 158.4 L89.7 153.6 Z" stroke="#9b5b33" stroke-width="1" fill="#fff" stroke-linejoin="round"/>
<text x="110" y="145" font-size="5.2" font-weight="bold" fill="#111" stroke="#111" textLength="10.6" lengthAdjust="spacingAndGlyphs" stroke-width="0.08">ATG</text>
<path d="M110.9 153.2 L110.9 147.8 L118.0 147.8" stroke="#111" stroke-width="0.95" fill="none" />
<path d="M112.4 153.2 L112.4 149.6 L118.0 149.6" stroke="#111" stroke-width="0.95" fill="none" />
<path d="M117.6 146.4 L120.6 148.7 L117.6 151.0" stroke="#111" stroke-width="0.95" fill="none" />
<rect x="8.3" y="161" width="121.1" height="13.2" fill="#dce6f2"/>
<rect x="8.3" y="174.2" width="121.1" height="10.6" fill="#76a8d8"/>
<rect x="8.3" y="184.8" width="121.1" height="10.6" fill="#e6edf7"/>
<rect x="8.3" y="195.4" width="121.1" height="10.6" fill="#76a8d8"/>
<rect x="8.3" y="206" width="121.1" height="10.6" fill="#e6edf7"/>
<rect x="8.3" y="216.6" width="121.1" height="10.4" fill="#76a8d8"/>
<line x1="7.8" y1="161" x2="129.9" y2="161" stroke="#3d5b8a" stroke-width="1.1" />
<line x1="7.8" y1="174.2" x2="129.9" y2="174.2" stroke="#3d5b8a" stroke-width="1.1" />
<line x1="7.8" y1="184.8" x2="129.9" y2="184.8" stroke="#3d5b8a" stroke-width="1.1" />
<line x1="7.8" y1="195.4" x2="129.9" y2="195.4" stroke="#3d5b8a" stroke-width="1.1" />
<line x1="7.8" y1="206" x2="129.9" y2="206" stroke="#3d5b8a" stroke-width="1.1" />
<line x1="7.8" y1="216.6" x2="129.9" y2="216.6" stroke="#3d5b8a" stroke-width="1.1" />
<line x1="7.8" y1="227" x2="129.9" y2="227" stroke="#3d5b8a" stroke-width="1.1" />
<line x1="8.3" y1="161" x2="8.3" y2="227" stroke="#3d5b8a" stroke-width="1.1" />
<line x1="58.3" y1="161" x2="58.3" y2="227" stroke="#3d5b8a" stroke-width="1.1" />
<line x1="98" y1="161" x2="98" y2="227" stroke="#3d5b8a" stroke-width="1.1" />
<line x1="129.4" y1="161" x2="129.4" y2="227" stroke="#3d5b8a" stroke-width="1.1" />
<text x="10.2" y="168.2" font-size="5.7" fill="#3a3a3a" stroke="#3a3a3a" textLength="42.3" lengthAdjust="spacingAndGlyphs" stroke-width="0">LEF1 binding sites</text>
<text x="60.2" y="168.2" font-size="5.7" fill="#3a3a3a" stroke="#3a3a3a" textLength="22.5" lengthAdjust="spacingAndGlyphs" stroke-width="0">sequence</text>
<text x="100" y="168.2" font-size="5.7" fill="#3a3a3a" stroke="#3a3a3a" textLength="22.5" lengthAdjust="spacingAndGlyphs" stroke-width="0">positions</text>
<text x="10.2" y="181.7" font-size="6" fill="#2a2a2a" stroke="#2a2a2a" textLength="44.2" lengthAdjust="spacingAndGlyphs" stroke-width="0">LEF1 binding site 1</text>
<text x="61" y="181.7" font-size="6" fill="#2a2a2a" stroke="#2a2a2a" textLength="28" lengthAdjust="spacingAndGlyphs" stroke-width="0">CTTTGAGG</text>
<text x="99.8" y="181.7" font-size="6" fill="#2a2a2a" stroke="#2a2a2a" textLength="24.5" lengthAdjust="spacingAndGlyphs" stroke-width="0">-94--938</text>
<text x="10.2" y="192.3" font-size="6" fill="#2a2a2a" stroke="#2a2a2a" textLength="44.2" lengthAdjust="spacingAndGlyphs" stroke-width="0">LEF1 binding site 2</text>
<text x="61" y="192.3" font-size="6" fill="#2a2a2a" stroke="#2a2a2a" textLength="28" lengthAdjust="spacingAndGlyphs" stroke-width="0">CTTTGGTC</text>
<text x="99.8" y="192.3" font-size="6" fill="#2a2a2a" stroke="#2a2a2a" textLength="28.5" lengthAdjust="spacingAndGlyphs" stroke-width="0">-645--638</text>
<text x="10.2" y="202.9" font-size="6" fill="#2a2a2a" stroke="#2a2a2a" textLength="44.2" lengthAdjust="spacingAndGlyphs" stroke-width="0">LEF1 binding site 3</text>
<text x="61" y="202.9" font-size="6" fill="#2a2a2a" stroke="#2a2a2a" textLength="28" lengthAdjust="spacingAndGlyphs" stroke-width="0">CTTTGCTC</text>
<text x="99.8" y="202.9" font-size="6" fill="#2a2a2a" stroke="#2a2a2a" textLength="28.5" lengthAdjust="spacingAndGlyphs" stroke-width="0">-558--551</text>
<text x="10.2" y="213.5" font-size="6" fill="#2a2a2a" stroke="#2a2a2a" textLength="44.2" lengthAdjust="spacingAndGlyphs" stroke-width="0">LEF1 binding site 4</text>
<text x="61" y="213.5" font-size="6" fill="#2a2a2a" stroke="#2a2a2a" textLength="28" lengthAdjust="spacingAndGlyphs" stroke-width="0">GAACAAAG</text>
<text x="99.8" y="213.5" font-size="6" fill="#2a2a2a" stroke="#2a2a2a" textLength="28.5" lengthAdjust="spacingAndGlyphs" stroke-width="0">-419--412</text>
<text x="10.2" y="224.1" font-size="6" fill="#2a2a2a" stroke="#2a2a2a" textLength="44.2" lengthAdjust="spacingAndGlyphs" stroke-width="0">LEF1 binding site 5</text>
<text x="61" y="224.1" font-size="6" fill="#2a2a2a" stroke="#2a2a2a" textLength="28" lengthAdjust="spacingAndGlyphs" stroke-width="0">CTTTGTGG</text>
<text x="99.8" y="224.1" font-size="6" fill="#2a2a2a" stroke="#2a2a2a" textLength="28.5" lengthAdjust="spacingAndGlyphs" stroke-width="0">-261--254</text>
<text x="131.5" y="132.1" font-size="11" font-weight="bold" fill="#111" stroke="#111" stroke-width="0.35">G</text>
<text x="179.2" y="137.1" font-size="8.1" fill="#262626" stroke="#262626" textLength="57.8" lengthAdjust="spacingAndGlyphs"><tspan font-style="italic">SDC1</tspan> promoter</text>
<line x1="163.6" y1="144.3" x2="163.6" y2="211.5" stroke="#333" stroke-width="1" />
<line x1="161.2" y1="144.8" x2="163.6" y2="144.8" stroke="#333" stroke-width="1" />
<text x="160.6" y="147.3" font-size="7" text-anchor="end" fill="#262626" stroke="#262626">10</text>
<line x1="161.2" y1="158" x2="163.6" y2="158" stroke="#333" stroke-width="1" />
<text x="160.6" y="160.5" font-size="7" text-anchor="end" fill="#262626" stroke="#262626">8</text>
<line x1="161.2" y1="171.3" x2="163.6" y2="171.3" stroke="#333" stroke-width="1" />
<text x="160.6" y="173.8" font-size="7" text-anchor="end" fill="#262626" stroke="#262626">6</text>
<line x1="161.2" y1="184.5" x2="163.6" y2="184.5" stroke="#333" stroke-width="1" />
<text x="160.6" y="187" font-size="7" text-anchor="end" fill="#262626" stroke="#262626">4</text>
<line x1="161.2" y1="197.8" x2="163.6" y2="197.8" stroke="#333" stroke-width="1" />
<text x="160.6" y="200.3" font-size="7" text-anchor="end" fill="#262626" stroke="#262626">2</text>
<line x1="161.2" y1="211" x2="163.6" y2="211" stroke="#333" stroke-width="1" />
<text x="160.6" y="213.5" font-size="7" text-anchor="end" fill="#262626" stroke="#262626">0</text>
<line x1="163.6" y1="211" x2="244.3" y2="211" stroke="#333" stroke-width="1" />
<text x="152.13" y="178" font-size="6.8" text-anchor="middle" transform="rotate(-90 152.13 178)" fill="#262626" stroke="#262626" textLength="56.5" lengthAdjust="spacingAndGlyphs">Relative luci-activity</text>
<rect x="171.2" y="205" width="9.5" height="6" fill="#46a840" stroke="#2a2f2a" stroke-width="0.6"/>
<circle cx="173.15" cy="204.6" r="1.2" fill="#1d5e48"/>
<circle cx="175.95" cy="204.6" r="1.2" fill="#1d5e48"/>
<circle cx="178.75" cy="204.6" r="1.2" fill="#1d5e48"/>
<line x1="175.95" y1="211" x2="175.95" y2="213.3" stroke="#333" stroke-width="0.9" />
<rect x="186.5" y="192.4" width="9.5" height="18.6" fill="#46a840" stroke="#2a2f2a" stroke-width="0.6"/>
<line x1="191.25" y1="189.8" x2="191.25" y2="194.4" stroke="#333" stroke-width="0.7" />
<line x1="189.65" y1="189.8" x2="192.85" y2="189.8" stroke="#333" stroke-width="0.7" />
<line x1="189.65" y1="185.1" x2="189.65" y2="187.3" stroke="#222" stroke-width="0.75" transform="rotate(0 189.65 186.2)"/>
<line x1="189.65" y1="185.1" x2="189.65" y2="187.3" stroke="#222" stroke-width="0.75" transform="rotate(60 189.65 186.2)"/>
<line x1="189.65" y1="185.1" x2="189.65" y2="187.3" stroke="#222" stroke-width="0.75" transform="rotate(120 189.65 186.2)"/>
<line x1="192.85" y1="185.1" x2="192.85" y2="187.3" stroke="#222" stroke-width="0.75" transform="rotate(0 192.85 186.2)"/>
<line x1="192.85" y1="185.1" x2="192.85" y2="187.3" stroke="#222" stroke-width="0.75" transform="rotate(60 192.85 186.2)"/>
<line x1="192.85" y1="185.1" x2="192.85" y2="187.3" stroke="#222" stroke-width="0.75" transform="rotate(120 192.85 186.2)"/>
<circle cx="188.85" cy="190.8" r="1.2" fill="#1d5e48"/>
<circle cx="191.85" cy="193" r="1.2" fill="#1d5e48"/>
<circle cx="194.05" cy="192" r="1.2" fill="#1d5e48"/>
<line x1="191.25" y1="211" x2="191.25" y2="213.3" stroke="#333" stroke-width="0.9" />
<rect x="201.5" y="189.7" width="9.5" height="21.3" fill="#46a840" stroke="#2a2f2a" stroke-width="0.6"/>
<line x1="206.25" y1="187.1" x2="206.25" y2="191.7" stroke="#333" stroke-width="0.7" />
<line x1="204.65" y1="187.1" x2="207.85" y2="187.1" stroke="#333" stroke-width="0.7" />
<line x1="204.65" y1="182.1" x2="204.65" y2="184.3" stroke="#222" stroke-width="0.75" transform="rotate(0 204.65 183.2)"/>
<line x1="204.65" y1="182.1" x2="204.65" y2="184.3" stroke="#222" stroke-width="0.75" transform="rotate(60 204.65 183.2)"/>
<line x1="204.65" y1="182.1" x2="204.65" y2="184.3" stroke="#222" stroke-width="0.75" transform="rotate(120 204.65 183.2)"/>
<line x1="207.85" y1="182.1" x2="207.85" y2="184.3" stroke="#222" stroke-width="0.75" transform="rotate(0 207.85 183.2)"/>
<line x1="207.85" y1="182.1" x2="207.85" y2="184.3" stroke="#222" stroke-width="0.75" transform="rotate(60 207.85 183.2)"/>
<line x1="207.85" y1="182.1" x2="207.85" y2="184.3" stroke="#222" stroke-width="0.75" transform="rotate(120 207.85 183.2)"/>
<circle cx="203.85" cy="188.1" r="1.2" fill="#1d5e48"/>
<circle cx="206.85" cy="190.3" r="1.2" fill="#1d5e48"/>
<circle cx="209.05" cy="189.3" r="1.2" fill="#1d5e48"/>
<line x1="206.25" y1="211" x2="206.25" y2="213.3" stroke="#333" stroke-width="0.9" />
<rect x="217" y="174.7" width="9.5" height="36.3" fill="#46a840" stroke="#2a2f2a" stroke-width="0.6"/>
<line x1="221.75" y1="172.1" x2="221.75" y2="176.7" stroke="#333" stroke-width="0.7" />
<line x1="220.15" y1="172.1" x2="223.35" y2="172.1" stroke="#333" stroke-width="0.7" />
<line x1="220.15" y1="166.5" x2="220.15" y2="168.7" stroke="#222" stroke-width="0.75" transform="rotate(0 220.15 167.6)"/>
<line x1="220.15" y1="166.5" x2="220.15" y2="168.7" stroke="#222" stroke-width="0.75" transform="rotate(60 220.15 167.6)"/>
<line x1="220.15" y1="166.5" x2="220.15" y2="168.7" stroke="#222" stroke-width="0.75" transform="rotate(120 220.15 167.6)"/>
<line x1="223.35" y1="166.5" x2="223.35" y2="168.7" stroke="#222" stroke-width="0.75" transform="rotate(0 223.35 167.6)"/>
<line x1="223.35" y1="166.5" x2="223.35" y2="168.7" stroke="#222" stroke-width="0.75" transform="rotate(60 223.35 167.6)"/>
<line x1="223.35" y1="166.5" x2="223.35" y2="168.7" stroke="#222" stroke-width="0.75" transform="rotate(120 223.35 167.6)"/>
<circle cx="219.35" cy="173.1" r="1.2" fill="#1d5e48"/>
<circle cx="222.35" cy="175.3" r="1.2" fill="#1d5e48"/>
<circle cx="224.55" cy="174.3" r="1.2" fill="#1d5e48"/>
<line x1="221.75" y1="211" x2="221.75" y2="213.3" stroke="#333" stroke-width="0.9" />
<rect x="232.4" y="162.4" width="9.5" height="48.6" fill="#46a840" stroke="#2a2f2a" stroke-width="0.6"/>
<line x1="237.15" y1="159.8" x2="237.15" y2="164.4" stroke="#333" stroke-width="0.7" />
<line x1="235.55" y1="159.8" x2="238.75" y2="159.8" stroke="#333" stroke-width="0.7" />
<line x1="235.55" y1="155.1" x2="235.55" y2="157.3" stroke="#222" stroke-width="0.75" transform="rotate(0 235.55 156.2)"/>
<line x1="235.55" y1="155.1" x2="235.55" y2="157.3" stroke="#222" stroke-width="0.75" transform="rotate(60 235.55 156.2)"/>
<line x1="235.55" y1="155.1" x2="235.55" y2="157.3" stroke="#222" stroke-width="0.75" transform="rotate(120 235.55 156.2)"/>
<line x1="238.75" y1="155.1" x2="238.75" y2="157.3" stroke="#222" stroke-width="0.75" transform="rotate(0 238.75 156.2)"/>
<line x1="238.75" y1="155.1" x2="238.75" y2="157.3" stroke="#222" stroke-width="0.75" transform="rotate(60 238.75 156.2)"/>
<line x1="238.75" y1="155.1" x2="238.75" y2="157.3" stroke="#222" stroke-width="0.75" transform="rotate(120 238.75 156.2)"/>
<circle cx="234.75" cy="160.8" r="1.2" fill="#1d5e48"/>
<circle cx="237.75" cy="163" r="1.2" fill="#1d5e48"/>
<circle cx="239.95" cy="162" r="1.2" fill="#1d5e48"/>
<line x1="237.15" y1="211" x2="237.15" y2="213.3" stroke="#333" stroke-width="0.9" />
<text x="176.2" y="222.6" font-size="7" text-anchor="middle" fill="#262626" stroke="#262626">0</text>
<text x="191.6" y="222.6" font-size="7" text-anchor="middle" fill="#262626" stroke="#262626">0.1</text>
<text x="206.6" y="222.6" font-size="7" text-anchor="middle" fill="#262626" stroke="#262626">0.2</text>
<text x="221.8" y="222.6" font-size="7" text-anchor="middle" fill="#262626" stroke="#262626">0.5</text>
<text x="237.2" y="222.6" font-size="7" text-anchor="middle" fill="#262626" stroke="#262626">1</text>
<text x="242.5" y="222.6" font-size="7" fill="#262626" stroke="#262626">(&#956;g)</text>
<text x="144.3" y="222.7" font-size="7" fill="#262626" stroke="#262626" textLength="23.3" lengthAdjust="spacingAndGlyphs">LEFT1:</text>
<text x="250.4" y="132" font-size="11" font-weight="bold" fill="#111" stroke="#111" stroke-width="0.35">H</text>
<text x="254.6" y="156.4" font-size="7" fill="#262626" stroke="#262626" textLength="35" lengthAdjust="spacingAndGlyphs">LEF1(&#956;g):</text>
<text x="297.6" y="155.8" font-size="7" text-anchor="middle" font-weight="bold" fill="#111" stroke="#111">0</text>
<text x="310.5" y="155.8" font-size="7" text-anchor="middle" font-weight="bold" fill="#111" stroke="#111">0.1</text>
<text x="325.2" y="155.8" font-size="7" text-anchor="middle" font-weight="bold" fill="#111" stroke="#111">0.2</text>
<text x="339.7" y="155.8" font-size="7" text-anchor="middle" font-weight="bold" fill="#111" stroke="#111">0.5</text>
<text x="354" y="155.8" font-size="7" text-anchor="middle" font-weight="bold" fill="#111" stroke="#111">1</text>
<text x="271" y="168.5" font-size="8.5" fill="#262626" stroke="#262626" textLength="16.7" lengthAdjust="spacingAndGlyphs">LEF1</text>
<text x="262.8" y="186.4" font-size="8.5" fill="#262626" stroke="#262626" textLength="24.9" lengthAdjust="spacingAndGlyphs">CD138</text>
<text x="265.9" y="201" font-size="8" fill="#262626" stroke="#262626" textLength="21.8" lengthAdjust="spacingAndGlyphs">&#946;-actin</text>
<rect x="291.4" y="159.7" width="69.9" height="11.9" fill="#f1efee" stroke="#1c1c1c" stroke-width="1.1"/>
<rect x="291.4" y="176.3" width="69.9" height="11.7" fill="#e6e4e2" stroke="#1c1c1c" stroke-width="1.1"/>
<rect x="291.4" y="192.1" width="69.9" height="12" fill="#efedeb" stroke="#1c1c1c" stroke-width="1.1"/>
<rect x="307" y="164.1" width="10" height="1.6" rx="0.8" fill="#111" fill-opacity="0.1" filter="url(#b1)"/>
<rect x="320.7" y="163.5" width="11.3" height="2" rx="1" fill="#111" fill-opacity="0.45" filter="url(#b1)"/>
<rect x="334.9" y="162.7" width="11.1" height="3" rx="1.5" fill="#111" fill-opacity="0.9" filter="url(#b1)"/>
<path d="M348.1 163.6 Q354 162.2 360.4 162.3 L360.4 167.8 Q354 167.6 348.1 166.4 Z" fill="#111" filter="url(#b1)"/>
<rect x="294.8" y="181" width="8.9" height="2.6" rx="1.3" fill="#111" fill-opacity="0.45" filter="url(#b1)"/>
<rect x="307.8" y="180.8" width="9.8" height="3" rx="1.5" fill="#111" fill-opacity="0.55" filter="url(#b1)"/>
<rect x="321.5" y="180.4" width="10.5" height="3.8" rx="1.9" fill="#111" fill-opacity="0.78" filter="url(#b1)"/>
<rect x="335.2" y="180.4" width="10.3" height="3.8" rx="1.9" fill="#111" fill-opacity="0.78" filter="url(#b1)"/>
<rect x="348.9" y="179.9" width="10.1" height="5" rx="2.5" fill="#111" fill-opacity="0.98" filter="url(#b1)"/>
<path d="M294.5 196.95 Q300.25 197.55 306 196.95 L306 200.2 Q300.25 200.65 294.5 200.2 Z" fill="#111" fill-opacity="0.92" filter="url(#b1)"/>
<path d="M307.5 196.95 Q313.5 197.55 319.5 196.95 L319.5 200.2 Q313.5 200.65 307.5 200.2 Z" fill="#111" fill-opacity="0.92" filter="url(#b1)"/>
<path d="M321 196.95 Q327 197.55 333 196.95 L333 200.2 Q327 200.65 321 200.2 Z" fill="#111" fill-opacity="0.92" filter="url(#b1)"/>
<path d="M335 196.95 Q340.5 197.55 346 196.95 L346 200.2 Q340.5 200.65 335 200.2 Z" fill="#111" fill-opacity="0.92" filter="url(#b1)"/>
<path d="M348.5 196.95 Q354.25 197.55 360 196.95 L360 200.2 Q354.25 200.65 348.5 200.2 Z" fill="#111" fill-opacity="0.92" filter="url(#b1)"/>
<text x="381" y="131.6" font-size="11" font-weight="bold" fill="#111" stroke="#111" stroke-width="0.35">I</text>
<text x="430.7" y="137.2" font-size="8.1" fill="#262626" stroke="#262626" textLength="58.1" lengthAdjust="spacingAndGlyphs"><tspan font-style="italic">SDC1</tspan> promoter</text>
<text x="456" y="144.8" font-size="8.8" fill="#262626" stroke="#262626" textLength="9.4" lengthAdjust="spacingAndGlyphs">ns</text>
<line x1="421" y1="146.3" x2="421" y2="213" stroke="#333" stroke-width="1" />
<line x1="418.5" y1="146.8" x2="421" y2="146.8" stroke="#333" stroke-width="1" />
<text x="416.2" y="149.3" font-size="7" text-anchor="end" fill="#262626" stroke="#262626" textLength="10.5" lengthAdjust="spacingAndGlyphs">2.2</text>
<line x1="418.5" y1="163.4" x2="421" y2="163.4" stroke="#333" stroke-width="1" />
<text x="416.2" y="165.9" font-size="7" text-anchor="end" fill="#262626" stroke="#262626" textLength="10.5" lengthAdjust="spacingAndGlyphs">1.5</text>
<line x1="418.5" y1="180" x2="421" y2="180" stroke="#333" stroke-width="1" />
<text x="416.2" y="182.5" font-size="7" text-anchor="end" fill="#262626" stroke="#262626" textLength="10.5" lengthAdjust="spacingAndGlyphs">1.0</text>
<line x1="418.5" y1="196.4" x2="421" y2="196.4" stroke="#333" stroke-width="1" />
<text x="416.2" y="198.9" font-size="7" text-anchor="end" fill="#262626" stroke="#262626" textLength="10.5" lengthAdjust="spacingAndGlyphs">0.5</text>
<line x1="418.5" y1="212.5" x2="421" y2="212.5" stroke="#333" stroke-width="1" />
<text x="416.2" y="215" font-size="7" text-anchor="end" fill="#262626" stroke="#262626" textLength="10.5" lengthAdjust="spacingAndGlyphs">0.0</text>
<line x1="421" y1="212.5" x2="497" y2="212.5" stroke="#333" stroke-width="1" />
<text x="400.03" y="177" font-size="6.8" text-anchor="middle" transform="rotate(-90 400.03 177)" fill="#262626" stroke="#262626" textLength="59" lengthAdjust="spacingAndGlyphs">Relative luci-activity</text>
<rect x="426.1" y="180.1" width="9.5" height="32.4" fill="#46a840" stroke="#2a2f2a" stroke-width="0.6"/>
<circle cx="428.05" cy="179.8" r="1.2" fill="#1d5e48"/>
<circle cx="430.85" cy="179.8" r="1.2" fill="#1d5e48"/>
<circle cx="433.65" cy="179.8" r="1.2" fill="#1d5e48"/>
<line x1="430.85" y1="212.5" x2="430.85" y2="214.8" stroke="#333" stroke-width="0.9" />
<rect x="440.9" y="168.1" width="9.5" height="44.4" fill="#46a840" stroke="#2a2f2a" stroke-width="0.6"/>
<line x1="445.65" y1="161.1" x2="445.65" y2="174.8" stroke="#1d5e48" stroke-width="1.1" />
<line x1="443.85" y1="161.1" x2="447.45" y2="161.1" stroke="#1d5e48" stroke-width="0.9" />
<line x1="443.85" y1="174.8" x2="447.45" y2="174.8" stroke="#1d5e48" stroke-width="0.9" />
<path d="M445.65 160.2 l1.8 2.8 l-3.6 0 Z" fill="#1d5e48"/>
<path d="M445.65 175.7 l1.8 -2.8 l-3.6 0 Z" fill="#1d5e48"/>
<circle cx="445.65" cy="171.45" r="1.2" fill="#1d5e48"/>
<line x1="445.65" y1="212.5" x2="445.65" y2="214.8" stroke="#333" stroke-width="0.9" />
<rect x="455.2" y="166.8" width="9.5" height="45.7" fill="#46a840" stroke="#2a2f2a" stroke-width="0.6"/>
<line x1="459.95" y1="155.8" x2="459.95" y2="175.9" stroke="#1d5e48" stroke-width="1.1" />
<line x1="458.15" y1="155.8" x2="461.75" y2="155.8" stroke="#1d5e48" stroke-width="0.9" />
<line x1="458.15" y1="175.9" x2="461.75" y2="175.9" stroke="#1d5e48" stroke-width="0.9" />
<path d="M459.95 154.9 l1.8 2.8 l-3.6 0 Z" fill="#1d5e48"/>
<path d="M459.95 176.8 l1.8 -2.8 l-3.6 0 Z" fill="#1d5e48"/>
<circle cx="459.95" cy="171.35" r="1.2" fill="#1d5e48"/>
<line x1="459.95" y1="212.5" x2="459.95" y2="214.8" stroke="#333" stroke-width="0.9" />
<rect x="470" y="159.4" width="9.5" height="53.1" fill="#46a840" stroke="#2a2f2a" stroke-width="0.6"/>
<line x1="474.75" y1="152.2" x2="474.75" y2="163.6" stroke="#1d5e48" stroke-width="1.1" />
<line x1="472.95" y1="152.2" x2="476.55" y2="152.2" stroke="#1d5e48" stroke-width="0.9" />
<line x1="472.95" y1="163.6" x2="476.55" y2="163.6" stroke="#1d5e48" stroke-width="0.9" />
<path d="M474.75 151.3 l1.8 2.8 l-3.6 0 Z" fill="#1d5e48"/>
<path d="M474.75 164.5 l1.8 -2.8 l-3.6 0 Z" fill="#1d5e48"/>
<circle cx="474.75" cy="161.5" r="1.2" fill="#1d5e48"/>
<line x1="474.75" y1="212.5" x2="474.75" y2="214.8" stroke="#333" stroke-width="0.9" />
<rect x="484.2" y="161.1" width="9.5" height="51.4" fill="#46a840" stroke="#2a2f2a" stroke-width="0.6"/>
<line x1="488.95" y1="153.1" x2="488.95" y2="167.4" stroke="#1d5e48" stroke-width="1.1" />
<line x1="487.15" y1="153.1" x2="490.75" y2="153.1" stroke="#1d5e48" stroke-width="0.9" />
<line x1="487.15" y1="167.4" x2="490.75" y2="167.4" stroke="#1d5e48" stroke-width="0.9" />
<path d="M488.95 152.2 l1.8 2.8 l-3.6 0 Z" fill="#1d5e48"/>
<path d="M488.95 168.3 l1.8 -2.8 l-3.6 0 Z" fill="#1d5e48"/>
<circle cx="488.95" cy="164.25" r="1.2" fill="#1d5e48"/>
<line x1="488.95" y1="212.5" x2="488.95" y2="214.8" stroke="#333" stroke-width="0.9" />
<path d="M431.4 173.8 L431.4 147.4 L470.4 147.4 L470.4 150.6" stroke="#444" stroke-width="0.85" fill="none" />
<path d="M445.1 152.4 L445.1 150.1 L488.4 150.1 L488.4 152.4" stroke="#444" stroke-width="0.85" fill="none" />
<path d="M474.6 150.1 L474.6 152.4" stroke="#555" stroke-width="0.8" fill="none" />
<text x="431.4" y="224.8" font-size="7" text-anchor="middle" fill="#262626" stroke="#262626">0</text>
<text x="445.6" y="224.8" font-size="7" text-anchor="middle" fill="#262626" stroke="#262626">0.1</text>
<text x="459.9" y="224.8" font-size="7" text-anchor="middle" fill="#262626" stroke="#262626">0.2</text>
<text x="472.7" y="224.8" font-size="7" text-anchor="middle" fill="#262626" stroke="#262626">0.5</text>
<text x="487.8" y="224.8" font-size="7" text-anchor="middle" fill="#262626" stroke="#262626">1</text>
<text x="495.5" y="224.8" font-size="7" fill="#262626" stroke="#262626">(&#956;g)</text>
<text x="410.2" y="225.2" font-size="8.6" fill="#262626" stroke="#262626" textLength="16" lengthAdjust="spacingAndGlyphs">TCFI:</text>
<text x="5.9" y="242.8" font-size="11" font-weight="bold" fill="#111" stroke="#111" stroke-width="0.35">J</text>
<text x="48.4" y="271.6" font-size="7" font-weight="bold" fill="#111" stroke="#111" textLength="23.9" lengthAdjust="spacingAndGlyphs">MM.1S</text>
<line x1="43.1" y1="275.3" x2="75.4" y2="275.3" stroke="#222" stroke-width="1.1" />
<text x="83.7" y="271.6" font-size="7" font-weight="bold" fill="#111" stroke="#111" textLength="23.9" lengthAdjust="spacingAndGlyphs">OPM-2</text>
<line x1="79.5" y1="275.3" x2="110.1" y2="275.3" stroke="#222" stroke-width="1.1" />
<text x="12.8" y="282.3" font-size="7" fill="#262626" stroke="#262626" textLength="25.6" lengthAdjust="spacingAndGlyphs">NT-Ctrl:</text>
<text x="8.8" y="290.3" font-size="7" fill="#262626" stroke="#262626" textLength="29.6" lengthAdjust="spacingAndGlyphs">shLRP6:</text>
<line x1="49.5" y1="280.1" x2="53.5" y2="280.1" stroke="#303030" stroke-width="1.05" />
<line x1="51.5" y1="278.1" x2="51.5" y2="282.1" stroke="#303030" stroke-width="1.05" />
<line x1="50" y1="288.1" x2="53" y2="288.1" stroke="#303030" stroke-width="1" />
<line x1="65.3" y1="280.1" x2="68.3" y2="280.1" stroke="#303030" stroke-width="1" />
<line x1="64.8" y1="288.1" x2="68.8" y2="288.1" stroke="#303030" stroke-width="1.05" />
<line x1="66.8" y1="286.1" x2="66.8" y2="290.1" stroke="#303030" stroke-width="1.05" />
<line x1="83.4" y1="280.1" x2="87.4" y2="280.1" stroke="#303030" stroke-width="1.05" />
<line x1="85.4" y1="278.1" x2="85.4" y2="282.1" stroke="#303030" stroke-width="1.05" />
<line x1="83.9" y1="288.1" x2="86.9" y2="288.1" stroke="#303030" stroke-width="1" />
<line x1="99.8" y1="280.1" x2="102.8" y2="280.1" stroke="#303030" stroke-width="1" />
<line x1="99.3" y1="288.1" x2="103.3" y2="288.1" stroke="#303030" stroke-width="1.05" />
<line x1="101.3" y1="286.1" x2="101.3" y2="290.1" stroke="#303030" stroke-width="1.05" />
<text x="18.8" y="301.9" font-size="8" fill="#262626" stroke="#262626" textLength="19.6" lengthAdjust="spacingAndGlyphs">LRP6</text>
<text x="15.6" y="313.3" font-size="8" fill="#262626" stroke="#262626" textLength="22.8" lengthAdjust="spacingAndGlyphs">&#946;-actin</text>
<rect x="41.2" y="294.1" width="33.2" height="10.3" fill="#e4e1de" stroke="#1c1c1c" stroke-width="1.1"/>
<rect x="76.8" y="294.1" width="32.9" height="10.3" fill="#f1efed" stroke="#1c1c1c" stroke-width="1.1"/>
<rect x="41.2" y="306.5" width="33.2" height="8.9" fill="#eceae8" stroke="#1c1c1c" stroke-width="1.1"/>
<rect x="76.8" y="306.5" width="32.9" height="8.9" fill="#eeecea" stroke="#1c1c1c" stroke-width="1.1"/>
<rect x="44" y="296.3" width="13.5" height="6.6" rx="3.3" fill="#111" fill-opacity="0.85" filter="url(#b2)"/>
<rect x="45" y="298.5" width="11.5" height="3" rx="1.5" fill="#111" fill-opacity="0.5" filter="url(#b1)"/>
<rect x="59.6" y="296.8" width="13.6" height="6" rx="3" fill="#111" fill-opacity="0.42" filter="url(#b2)"/>
<rect x="78.1" y="295.5" width="12.9" height="5" rx="2.5" fill="#111" fill-opacity="1" filter="url(#b1)"/>
<rect x="95.2" y="296.3" width="12.8" height="2.2" rx="1.1" fill="#111" fill-opacity="0.85" filter="url(#b1)"/>
<path d="M43.3 308.1 Q50.05 308.7 56.8 308.1 L56.8 311.25 Q50.05 311.7 43.3 311.25 Z" fill="#111" fill-opacity="0.95" filter="url(#b1)"/>
<path d="M58.9 308.1 Q65.65 308.7 72.4 308.1 L72.4 311.25 Q65.65 311.7 58.9 311.25 Z" fill="#111" fill-opacity="0.95" filter="url(#b1)"/>
<path d="M78.8 308.1 Q85.25 308.7 91.7 308.1 L91.7 311.25 Q85.25 311.7 78.8 311.25 Z" fill="#111" fill-opacity="0.95" filter="url(#b1)"/>
<path d="M93.8 308.1 Q100.9 308.7 108 308.1 L108 311.25 Q100.9 311.7 93.8 311.25 Z" fill="#111" fill-opacity="0.95" filter="url(#b1)"/>
<text x="131.8" y="243.1" font-size="11" font-weight="bold" fill="#111" stroke="#111" stroke-width="0.35">K</text>
<text x="156.5" y="267.2" font-size="7" font-weight="bold" fill="#111" stroke="#111" textLength="25.5" lengthAdjust="spacingAndGlyphs">NT Ctrl</text>
<line x1="155" y1="270.9" x2="184" y2="270.9" stroke="#555" stroke-width="1.1" />
<text x="189" y="267.2" font-size="7" font-weight="bold" fill="#111" stroke="#111" textLength="25.7" lengthAdjust="spacingAndGlyphs">shLRP6</text>
<line x1="188" y1="270.9" x2="217.6" y2="270.9" stroke="#555" stroke-width="1.1" />
<text x="126" y="278" font-size="7.2" fill="#262626" stroke="#262626" textLength="27" lengthAdjust="spacingAndGlyphs">rhDKK1:</text>
<line x1="160.5" y1="275.5" x2="163.5" y2="275.5" stroke="#303030" stroke-width="1" />
<line x1="174.6" y1="275.5" x2="178.6" y2="275.5" stroke="#303030" stroke-width="1.05" />
<line x1="176.6" y1="273.5" x2="176.6" y2="277.5" stroke="#303030" stroke-width="1.05" />
<line x1="190.3" y1="275.5" x2="193.3" y2="275.5" stroke="#303030" stroke-width="1" />
<line x1="203.5" y1="275.5" x2="207.5" y2="275.5" stroke="#303030" stroke-width="1.05" />
<line x1="205.5" y1="273.5" x2="205.5" y2="277.5" stroke="#303030" stroke-width="1.05" />
<text x="127.4" y="289.9" font-size="8" fill="#262626" stroke="#262626" textLength="23.3" lengthAdjust="spacingAndGlyphs">CD138</text>
<text x="128.9" y="300.4" font-size="7.5" fill="#262626" stroke="#262626" textLength="21.8" lengthAdjust="spacingAndGlyphs">&#946;-actin</text>
<text x="127.4" y="313.8" font-size="8" fill="#262626" stroke="#262626" textLength="23.3" lengthAdjust="spacingAndGlyphs">CD138</text>
<text x="128.9" y="325.9" font-size="7.5" fill="#262626" stroke="#262626" textLength="21.8" lengthAdjust="spacingAndGlyphs">&#946;-actin</text>
<rect x="154.3" y="281.7" width="60.1" height="10.1" fill="#f0eeec" stroke="#1c1c1c" stroke-width="1.1"/>
<rect x="154.3" y="293.6" width="60.1" height="8.6" fill="#eeecea" stroke="#1c1c1c" stroke-width="1.1"/>
<rect x="154.3" y="305.9" width="60.1" height="9.6" fill="#f0eeec" stroke="#1c1c1c" stroke-width="1.1"/>
<rect x="154.3" y="318.3" width="60.1" height="9.1" fill="#f0eeec" stroke="#1c1c1c" stroke-width="1.1"/>
<path d="M157.2 283.3 Q163.5 284.9 169.8 283.3 L169.8 288.1 Q163.5 289.3 157.2 288.1 Z" fill="#111" fill-opacity="1" filter="url(#b1)"/>
<rect x="157.2" y="295.9" width="12.6" height="3.4" rx="1.7" fill="#111" fill-opacity="0.95" filter="url(#b1)"/>
<path d="M171.2 284.8 Q177.5 285.4 183.8 284.8 L183.8 287.35 Q177.5 287.8 171.2 287.35 Z" fill="#111" fill-opacity="0.85" filter="url(#b1)"/>
<rect x="171.2" y="295.9" width="12.6" height="3.4" rx="1.7" fill="#111" fill-opacity="0.95" filter="url(#b1)"/>
<path d="M186 283.5 Q192.1 284.9 198.2 283.5 L198.2 288.05 Q192.1 289.1 186 288.05 Z" fill="#111" fill-opacity="1" filter="url(#b1)"/>
<rect x="186" y="295.9" width="12.2" height="3.4" rx="1.7" fill="#111" fill-opacity="0.95" filter="url(#b1)"/>
<path d="M200.1 284 Q206.05 285.2 212 284 L212 287.7 Q206.05 288.6 200.1 287.7 Z" fill="#111" fill-opacity="0.95" filter="url(#b1)"/>
<rect x="200.1" y="295.9" width="11.9" height="3.4" rx="1.7" fill="#111" fill-opacity="0.95" filter="url(#b1)"/>
<rect x="157.2" y="309.3" width="12.6" height="3" rx="1.5" fill="#111" fill-opacity="0.95" filter="url(#b1)"/>
<rect x="157.2" y="321.8" width="12.6" height="2.6" rx="1.3" fill="#111" fill-opacity="0.95" filter="url(#b1)"/>
<rect x="171.2" y="309.8" width="12.6" height="2" rx="1" fill="#111" fill-opacity="0.6" filter="url(#b1)"/>
<rect x="171.2" y="321.8" width="12.6" height="2.6" rx="1.3" fill="#111" fill-opacity="0.95" filter="url(#b1)"/>
<rect x="186" y="309.3" width="12.2" height="3" rx="1.5" fill="#111" fill-opacity="0.9" filter="url(#b1)"/>
<rect x="186" y="321.8" width="12.2" height="2.6" rx="1.3" fill="#111" fill-opacity="0.95" filter="url(#b1)"/>
<rect x="200.1" y="309.3" width="11.9" height="3" rx="1.5" fill="#111" fill-opacity="0.95" filter="url(#b1)"/>
<rect x="200.1" y="321.8" width="11.9" height="2.6" rx="1.3" fill="#111" fill-opacity="0.95" filter="url(#b1)"/>
<line x1="218.4" y1="281" x2="218.4" y2="303.4" stroke="#888" stroke-width="1" />
<line x1="218.4" y1="305.8" x2="218.4" y2="329.2" stroke="#888" stroke-width="1" />
<text x="226.51" y="292" font-size="7" text-anchor="middle" transform="rotate(-90 226.51 292)" font-weight="bold" fill="#111" stroke="#111" textLength="24" lengthAdjust="spacingAndGlyphs">MM.1S</text>
<text x="226.51" y="318.2" font-size="7" text-anchor="middle" transform="rotate(-90 226.51 318.2)" font-weight="bold" fill="#111" stroke="#111" textLength="24" lengthAdjust="spacingAndGlyphs">OPM-2</text>
<text x="233.2" y="243" font-size="11" font-weight="bold" fill="#111" stroke="#111" stroke-width="0.35">L</text>
<text x="282.9" y="252.7" font-size="7" font-weight="bold" fill="#111" stroke="#111" textLength="24.7" lengthAdjust="spacingAndGlyphs">NT Ctrl</text>
<line x1="275.5" y1="256" x2="314.7" y2="256" stroke="#555" stroke-width="1.1" />
<text x="328.3" y="252.7" font-size="7" font-weight="bold" fill="#111" stroke="#111" textLength="26" lengthAdjust="spacingAndGlyphs">shLRP6</text>
<line x1="322.3" y1="256" x2="361.2" y2="256" stroke="#555" stroke-width="1.1" />
<text x="238.8" y="264.2" font-size="7" fill="#262626" stroke="#262626" textLength="33.6" lengthAdjust="spacingAndGlyphs">BTZ (nM):</text>
<text x="244.1" y="273.2" font-size="7" fill="#262626" stroke="#262626" textLength="28.3" lengthAdjust="spacingAndGlyphs">rhDKK1:</text>
<text x="279.1" y="264.2" font-size="7" text-anchor="middle" font-weight="bold" fill="#111" stroke="#111">0</text>
<line x1="277.6" y1="270.9" x2="280.6" y2="270.9" stroke="#303030" stroke-width="1" />
<text x="290.9" y="264.2" font-size="7" text-anchor="middle" font-weight="bold" fill="#111" stroke="#111">10</text>
<line x1="289.4" y1="270.9" x2="292.4" y2="270.9" stroke="#303030" stroke-width="1" />
<text x="302" y="264.2" font-size="7" text-anchor="middle" font-weight="bold" fill="#111" stroke="#111">0</text>
<line x1="300" y1="270.9" x2="304" y2="270.9" stroke="#303030" stroke-width="1.05" />
<line x1="302" y1="268.9" x2="302" y2="272.9" stroke="#303030" stroke-width="1.05" />
<text x="311.8" y="264.2" font-size="7" text-anchor="middle" font-weight="bold" fill="#111" stroke="#111">10</text>
<line x1="309.8" y1="270.9" x2="313.8" y2="270.9" stroke="#303030" stroke-width="1.05" />
<line x1="311.8" y1="268.9" x2="311.8" y2="272.9" stroke="#303030" stroke-width="1.05" />
<text x="323.1" y="264.2" font-size="7" text-anchor="middle" font-weight="bold" fill="#111" stroke="#111">0</text>
<line x1="321.6" y1="270.9" x2="324.6" y2="270.9" stroke="#303030" stroke-width="1" />
<text x="334" y="264.2" font-size="7" text-anchor="middle" font-weight="bold" fill="#111" stroke="#111">10</text>
<line x1="332.5" y1="270.9" x2="335.5" y2="270.9" stroke="#303030" stroke-width="1" />
<text x="345.1" y="264.2" font-size="7" text-anchor="middle" font-weight="bold" fill="#111" stroke="#111">0</text>
<line x1="343.1" y1="270.9" x2="347.1" y2="270.9" stroke="#303030" stroke-width="1.05" />
<line x1="345.1" y1="268.9" x2="345.1" y2="272.9" stroke="#303030" stroke-width="1.05" />
<text x="354.7" y="264.2" font-size="7" text-anchor="middle" font-weight="bold" fill="#111" stroke="#111">10</text>
<line x1="352.7" y1="270.9" x2="356.7" y2="270.9" stroke="#303030" stroke-width="1.05" />
<line x1="354.7" y1="268.9" x2="354.7" y2="272.9" stroke="#303030" stroke-width="1.05" />
<rect x="272.3" y="277.2" width="88.5" height="19.8" fill="#f1f0ee" stroke="#1c1c1c" stroke-width="1.1"/>
<rect x="272.3" y="299.4" width="88.5" height="9.3" fill="#f0eeec" stroke="#1c1c1c" stroke-width="1.1"/>
<rect x="272.3" y="313.2" width="88.5" height="18.9" fill="#f1f0ee" stroke="#1c1c1c" stroke-width="1.1"/>
<rect x="272.3" y="334.9" width="88.5" height="9.3" fill="#f0eeec" stroke="#1c1c1c" stroke-width="1.1"/>
<text x="249.6" y="286.3" font-size="8" fill="#262626" stroke="#262626" textLength="19.3" lengthAdjust="spacingAndGlyphs">PARP</text>
<text x="242.6" y="294.4" font-size="8" fill="#262626" stroke="#262626" textLength="26.3" lengthAdjust="spacingAndGlyphs">c-PARP</text>
<text x="246.4" y="307.2" font-size="8" fill="#262626" stroke="#262626" textLength="22.5" lengthAdjust="spacingAndGlyphs">&#946;-actin</text>
<text x="249.6" y="321.8" font-size="8" fill="#262626" stroke="#262626" textLength="19.3" lengthAdjust="spacingAndGlyphs">PARP</text>
<text x="242.6" y="330.3" font-size="8" fill="#262626" stroke="#262626" textLength="26.3" lengthAdjust="spacingAndGlyphs">c-PARP</text>
<text x="246.4" y="343.6" font-size="8" fill="#262626" stroke="#262626" textLength="22.5" lengthAdjust="spacingAndGlyphs">&#946;-actin</text>
<rect x="274" y="282.1" width="9.6" height="2.6" rx="1.3" fill="#111" fill-opacity="0.92" filter="url(#b1)"/>
<rect x="274.3" y="288.7" width="9" height="2.4" rx="1.2" fill="#111" fill-opacity="0.12" filter="url(#b1)"/>
<path d="M274 302 Q278.8 302.6 283.6 302 L283.6 305.15 Q278.8 305.6 274 305.15 Z" fill="#111" fill-opacity="0.9" filter="url(#b1)"/>
<rect x="274" y="319.2" width="9.6" height="2.6" rx="1.3" fill="#111" fill-opacity="0.92" filter="url(#b1)"/>
<rect x="274.3" y="325.4" width="9" height="2.4" rx="1.2" fill="#111" fill-opacity="0.15" filter="url(#b1)"/>
<rect x="274" y="337.95" width="9.6" height="2.7" rx="1.35" fill="#111" fill-opacity="0.9" filter="url(#b1)"/>
<rect x="284.8" y="282.1" width="9.1" height="2.6" rx="1.3" fill="#111" fill-opacity="0.92" filter="url(#b1)"/>
<rect x="285.1" y="288.7" width="8.5" height="2.4" rx="1.2" fill="#111" fill-opacity="0.7" filter="url(#b1)"/>
<path d="M284.8 302 Q289.35 302.6 293.9 302 L293.9 305.15 Q289.35 305.6 284.8 305.15 Z" fill="#111" fill-opacity="0.9" filter="url(#b1)"/>
<rect x="284.8" y="319.2" width="9.1" height="2.6" rx="1.3" fill="#111" fill-opacity="0.92" filter="url(#b1)"/>
<rect x="285.1" y="325.4" width="8.5" height="2.4" rx="1.2" fill="#111" fill-opacity="0.8" filter="url(#b1)"/>
<rect x="284.8" y="337.95" width="9.1" height="2.7" rx="1.35" fill="#111" fill-opacity="0.9" filter="url(#b1)"/>
<rect x="295.3" y="282.1" width="9.4" height="2.6" rx="1.3" fill="#111" fill-opacity="0.92" filter="url(#b1)"/>
<rect x="295.6" y="288.7" width="8.8" height="2.4" rx="1.2" fill="#111" fill-opacity="0.12" filter="url(#b1)"/>
<path d="M295.3 302 Q300 302.6 304.7 302 L304.7 305.15 Q300 305.6 295.3 305.15 Z" fill="#111" fill-opacity="0.9" filter="url(#b1)"/>
<rect x="295.3" y="319.2" width="9.4" height="2.6" rx="1.3" fill="#111" fill-opacity="0.92" filter="url(#b1)"/>
<rect x="295.6" y="325.4" width="8.8" height="2.4" rx="1.2" fill="#111" fill-opacity="0.15" filter="url(#b1)"/>
<rect x="295.3" y="337.95" width="9.4" height="2.7" rx="1.35" fill="#111" fill-opacity="0.9" filter="url(#b1)"/>
<rect x="306.5" y="282.1" width="9.1" height="2.6" rx="1.3" fill="#111" fill-opacity="0.92" filter="url(#b1)"/>
<rect x="306.8" y="288.7" width="8.5" height="2.4" rx="1.2" fill="#111" fill-opacity="0.45" filter="url(#b1)"/>
<path d="M306.5 302 Q311.05 302.6 315.6 302 L315.6 305.15 Q311.05 305.6 306.5 305.15 Z" fill="#111" fill-opacity="0.9" filter="url(#b1)"/>
<rect x="306.5" y="319.2" width="9.1" height="2.6" rx="1.3" fill="#111" fill-opacity="0.92" filter="url(#b1)"/>
<rect x="306.8" y="325.4" width="8.5" height="2.4" rx="1.2" fill="#111" fill-opacity="0.45" filter="url(#b1)"/>
<rect x="306.5" y="337.95" width="9.1" height="2.7" rx="1.35" fill="#111" fill-opacity="0.9" filter="url(#b1)"/>
<rect x="317.4" y="282.1" width="9" height="2.6" rx="1.3" fill="#111" fill-opacity="0.92" filter="url(#b1)"/>
<rect x="317.7" y="288.7" width="8.4" height="2.4" rx="1.2" fill="#111" fill-opacity="0.12" filter="url(#b1)"/>
<path d="M317.4 302 Q321.9 302.6 326.4 302 L326.4 305.15 Q321.9 305.6 317.4 305.15 Z" fill="#111" fill-opacity="0.9" filter="url(#b1)"/>
<rect x="317.4" y="319.2" width="9" height="2.6" rx="1.3" fill="#111" fill-opacity="0.92" filter="url(#b1)"/>
<rect x="317.7" y="325.4" width="8.4" height="2.4" rx="1.2" fill="#111" fill-opacity="0.15" filter="url(#b1)"/>
<rect x="317.4" y="337.95" width="9" height="2.7" rx="1.35" fill="#111" fill-opacity="0.9" filter="url(#b1)"/>
<rect x="328.2" y="282.1" width="9" height="2.6" rx="1.3" fill="#111" fill-opacity="0.92" filter="url(#b1)"/>
<rect x="328.5" y="288.7" width="8.4" height="2.4" rx="1.2" fill="#111" fill-opacity="0.75" filter="url(#b1)"/>
<path d="M328.2 302 Q332.7 302.6 337.2 302 L337.2 305.15 Q332.7 305.6 328.2 305.15 Z" fill="#111" fill-opacity="0.9" filter="url(#b1)"/>
<rect x="328.2" y="319.2" width="9" height="2.6" rx="1.3" fill="#111" fill-opacity="0.92" filter="url(#b1)"/>
<rect x="328.5" y="325.4" width="8.4" height="2.4" rx="1.2" fill="#111" fill-opacity="0.6" filter="url(#b1)"/>
<rect x="328.2" y="337.95" width="9" height="2.7" rx="1.35" fill="#111" fill-opacity="0.9" filter="url(#b1)"/>
<rect x="338.7" y="282.1" width="9.4" height="2.6" rx="1.3" fill="#111" fill-opacity="0.92" filter="url(#b1)"/>
<rect x="339" y="288.7" width="8.8" height="2.4" rx="1.2" fill="#111" fill-opacity="0.1" filter="url(#b1)"/>
<path d="M338.7 302 Q343.4 302.6 348.1 302 L348.1 305.15 Q343.4 305.6 338.7 305.15 Z" fill="#111" fill-opacity="0.9" filter="url(#b1)"/>
<rect x="338.7" y="319.2" width="9.4" height="2.6" rx="1.3" fill="#111" fill-opacity="0.92" filter="url(#b1)"/>
<rect x="339" y="325.4" width="8.8" height="2.4" rx="1.2" fill="#111" fill-opacity="0.15" filter="url(#b1)"/>
<rect x="338.7" y="337.95" width="9.4" height="2.7" rx="1.35" fill="#111" fill-opacity="0.9" filter="url(#b1)"/>
<rect x="349.5" y="282.1" width="9.4" height="2.6" rx="1.3" fill="#111" fill-opacity="0.92" filter="url(#b1)"/>
<rect x="349.8" y="288.7" width="8.8" height="2.4" rx="1.2" fill="#111" fill-opacity="0.45" filter="url(#b1)"/>
<path d="M349.5 302 Q354.2 302.6 358.9 302 L358.9 305.15 Q354.2 305.6 349.5 305.15 Z" fill="#111" fill-opacity="0.9" filter="url(#b1)"/>
<rect x="349.5" y="319.2" width="9.4" height="2.6" rx="1.3" fill="#111" fill-opacity="0.92" filter="url(#b1)"/>
<rect x="349.8" y="325.4" width="8.8" height="2.4" rx="1.2" fill="#111" fill-opacity="0.5" filter="url(#b1)"/>
<rect x="349.5" y="337.95" width="9.4" height="2.7" rx="1.35" fill="#111" fill-opacity="0.9" filter="url(#b1)"/>
<line x1="364" y1="277" x2="364" y2="309" stroke="#888" stroke-width="1" />
<line x1="364" y1="313" x2="364" y2="344.5" stroke="#888" stroke-width="1" />
<text x="370.51" y="291" font-size="7" text-anchor="middle" transform="rotate(-90 370.51 291)" font-weight="bold" fill="#111" stroke="#111" textLength="26" lengthAdjust="spacingAndGlyphs">MM.1S</text>
<text x="370.51" y="328" font-size="7" text-anchor="middle" transform="rotate(-90 370.51 328)" font-weight="bold" fill="#111" stroke="#111" textLength="26" lengthAdjust="spacingAndGlyphs">OPM-2</text>
<text x="374.4" y="243" font-size="11" font-weight="bold" fill="#111" stroke="#111" stroke-width="0.35">M</text>
<text x="423.8" y="241.8" font-size="7" font-weight="bold" fill="#111" stroke="#111" textLength="24.7" lengthAdjust="spacingAndGlyphs">NT Ctrl</text>
<line x1="416.2" y1="244.5" x2="455.6" y2="244.5" stroke="#555" stroke-width="1.1" />
<text x="469.3" y="241.8" font-size="7" font-weight="bold" fill="#111" stroke="#111" textLength="28" lengthAdjust="spacingAndGlyphs">shLRP6</text>
<line x1="464.1" y1="244.5" x2="504.8" y2="244.5" stroke="#555" stroke-width="1.1" />
<text x="383.8" y="252.7" font-size="7" fill="#262626" stroke="#262626" textLength="30.3" lengthAdjust="spacingAndGlyphs">BTZ (nM):</text>
<text x="400.4" y="261.9" font-size="7" fill="#262626" stroke="#262626" textLength="13.6" lengthAdjust="spacingAndGlyphs">IgG:</text>
<text x="384.1" y="269.7" font-size="7" fill="#262626" stroke="#262626" textLength="29.9" lengthAdjust="spacingAndGlyphs">DKK1 Ab:</text>
<text x="420" y="252.7" font-size="7" text-anchor="middle" font-weight="bold" fill="#111" stroke="#111">0</text>
<line x1="418" y1="259.4" x2="422" y2="259.4" stroke="#303030" stroke-width="1.05" />
<line x1="420" y1="257.4" x2="420" y2="261.4" stroke="#303030" stroke-width="1.05" />
<line x1="418.5" y1="266.7" x2="421.5" y2="266.7" stroke="#303030" stroke-width="1" />
<text x="432" y="252.7" font-size="7" text-anchor="middle" font-weight="bold" fill="#111" stroke="#111">10</text>
<line x1="430" y1="259.4" x2="434" y2="259.4" stroke="#303030" stroke-width="1.05" />
<line x1="432" y1="257.4" x2="432" y2="261.4" stroke="#303030" stroke-width="1.05" />
<line x1="430.5" y1="266.7" x2="433.5" y2="266.7" stroke="#303030" stroke-width="1" />
<text x="443" y="252.7" font-size="7" text-anchor="middle" font-weight="bold" fill="#111" stroke="#111">0</text>
<line x1="441.5" y1="259.4" x2="444.5" y2="259.4" stroke="#303030" stroke-width="1" />
<line x1="441" y1="266.7" x2="445" y2="266.7" stroke="#303030" stroke-width="1.05" />
<line x1="443" y1="264.7" x2="443" y2="268.7" stroke="#303030" stroke-width="1.05" />
<text x="452.6" y="252.7" font-size="7" text-anchor="middle" font-weight="bold" fill="#111" stroke="#111">10</text>
<line x1="451.1" y1="259.4" x2="454.1" y2="259.4" stroke="#303030" stroke-width="1" />
<line x1="450.6" y1="266.7" x2="454.6" y2="266.7" stroke="#303030" stroke-width="1.05" />
<line x1="452.6" y1="264.7" x2="452.6" y2="268.7" stroke="#303030" stroke-width="1.05" />
<text x="464.8" y="252.7" font-size="7" text-anchor="middle" font-weight="bold" fill="#111" stroke="#111">0</text>
<line x1="462.8" y1="259.4" x2="466.8" y2="259.4" stroke="#303030" stroke-width="1.05" />
<line x1="464.8" y1="257.4" x2="464.8" y2="261.4" stroke="#303030" stroke-width="1.05" />
<line x1="463.3" y1="266.7" x2="466.3" y2="266.7" stroke="#303030" stroke-width="1" />
<text x="476.2" y="252.7" font-size="7" text-anchor="middle" font-weight="bold" fill="#111" stroke="#111">10</text>
<line x1="474.2" y1="259.4" x2="478.2" y2="259.4" stroke="#303030" stroke-width="1.05" />
<line x1="476.2" y1="257.4" x2="476.2" y2="261.4" stroke="#303030" stroke-width="1.05" />
<line x1="474.7" y1="266.7" x2="477.7" y2="266.7" stroke="#303030" stroke-width="1" />
<text x="487.9" y="252.7" font-size="7" text-anchor="middle" font-weight="bold" fill="#111" stroke="#111">0</text>
<line x1="486.4" y1="259.4" x2="489.4" y2="259.4" stroke="#303030" stroke-width="1" />
<line x1="485.9" y1="266.7" x2="489.9" y2="266.7" stroke="#303030" stroke-width="1.05" />
<line x1="487.9" y1="264.7" x2="487.9" y2="268.7" stroke="#303030" stroke-width="1.05" />
<text x="498.1" y="252.7" font-size="7" text-anchor="middle" font-weight="bold" fill="#111" stroke="#111">10</text>
<line x1="496.6" y1="259.4" x2="499.6" y2="259.4" stroke="#303030" stroke-width="1" />
<line x1="496.1" y1="266.7" x2="500.1" y2="266.7" stroke="#303030" stroke-width="1.05" />
<line x1="498.1" y1="264.7" x2="498.1" y2="268.7" stroke="#303030" stroke-width="1.05" />
<rect x="414.5" y="273.2" width="88.6" height="19.4" fill="#f1f0ee" stroke="#1c1c1c" stroke-width="1.1"/>
<rect x="414.5" y="295.8" width="88.6" height="9.1" fill="#f0eeec" stroke="#1c1c1c" stroke-width="1.1"/>
<rect x="414.5" y="308.7" width="88.6" height="19.9" fill="#f1f0ee" stroke="#1c1c1c" stroke-width="1.1"/>
<rect x="414.5" y="331.4" width="88.6" height="9.5" fill="#f0eeec" stroke="#1c1c1c" stroke-width="1.1"/>
<text x="393.2" y="281.9" font-size="8" fill="#262626" stroke="#262626" textLength="17.8" lengthAdjust="spacingAndGlyphs">PARP</text>
<text x="387.5" y="290.4" font-size="8" fill="#262626" stroke="#262626" textLength="23.5" lengthAdjust="spacingAndGlyphs">c-PARP</text>
<text x="388.5" y="303.2" font-size="8" fill="#262626" stroke="#262626" textLength="22.5" lengthAdjust="spacingAndGlyphs">&#946;-actin</text>
<text x="393.2" y="317.8" font-size="8" fill="#262626" stroke="#262626" textLength="17.8" lengthAdjust="spacingAndGlyphs">PARP</text>
<text x="387.5" y="326.3" font-size="8" fill="#262626" stroke="#262626" textLength="23.5" lengthAdjust="spacingAndGlyphs">c-PARP</text>
<text x="388.5" y="339.6" font-size="8" fill="#262626" stroke="#262626" textLength="22.5" lengthAdjust="spacingAndGlyphs">&#946;-actin</text>
<rect x="416.6" y="280.5" width="8.7" height="3" rx="1.5" fill="#111" fill-opacity="0.95" filter="url(#b1)"/>
<rect x="416.6" y="285.6" width="8.7" height="2" rx="1" fill="#111" fill-opacity="0.12" filter="url(#b1)"/>
<rect x="416.6" y="299.35" width="8.7" height="2.3" rx="1.15" fill="#111" fill-opacity="0.83" filter="url(#b1)"/>
<rect x="416.6" y="314.5" width="8.7" height="2.2" rx="1.1" fill="#111" fill-opacity="0.7" filter="url(#b1)"/>
<rect x="416.6" y="319.4" width="8.7" height="2" rx="1" fill="#111" fill-opacity="0.15" filter="url(#b1)"/>
<rect x="416.6" y="335.2" width="8.7" height="2.6" rx="1.3" fill="#111" fill-opacity="0.88" filter="url(#b1)"/>
<rect x="427.1" y="280.3" width="8.9" height="3" rx="1.5" fill="#111" fill-opacity="0.9" filter="url(#b1)"/>
<rect x="427.1" y="285.8" width="8.9" height="2" rx="1" fill="#111" fill-opacity="0.6" filter="url(#b1)"/>
<rect x="427.1" y="299.35" width="8.9" height="2.3" rx="1.15" fill="#111" fill-opacity="0.78" filter="url(#b1)"/>
<rect x="427.1" y="314.5" width="8.9" height="2.2" rx="1.1" fill="#111" fill-opacity="0.75" filter="url(#b1)"/>
<rect x="427.1" y="319.4" width="8.9" height="2" rx="1" fill="#111" fill-opacity="0.55" filter="url(#b1)"/>
<rect x="427.1" y="335.2" width="8.9" height="2.6" rx="1.3" fill="#111" fill-opacity="0.88" filter="url(#b1)"/>
<rect x="437.5" y="279.5" width="8.7" height="3" rx="1.5" fill="#111" fill-opacity="0.9" filter="url(#b1)"/>
<rect x="437.5" y="285.4" width="8.7" height="2" rx="1" fill="#111" fill-opacity="0.15" filter="url(#b1)"/>
<rect x="437.5" y="299.35" width="8.7" height="2.3" rx="1.15" fill="#111" fill-opacity="0.83" filter="url(#b1)"/>
<rect x="437.5" y="314.5" width="8.7" height="2.2" rx="1.1" fill="#111" fill-opacity="0.75" filter="url(#b1)"/>
<rect x="437.5" y="319.4" width="8.7" height="2" rx="1" fill="#111" fill-opacity="0.15" filter="url(#b1)"/>
<rect x="437.5" y="335.2" width="8.7" height="2.6" rx="1.3" fill="#111" fill-opacity="0.88" filter="url(#b1)"/>
<rect x="448.6" y="279.1" width="8.6" height="3" rx="1.5" fill="#111" fill-opacity="0.9" filter="url(#b1)"/>
<rect x="448.6" y="283.8" width="8.6" height="3.4" rx="1.7" fill="#111" fill-opacity="0.95" filter="url(#b1)"/>
<rect x="448.6" y="299.35" width="8.6" height="2.3" rx="1.15" fill="#111" fill-opacity="0.74" filter="url(#b1)"/>
<rect x="448.6" y="314.5" width="8.6" height="2.2" rx="1.1" fill="#111" fill-opacity="0.25" filter="url(#b1)"/>
<rect x="448.6" y="318.7" width="8.6" height="3.4" rx="1.7" fill="#111" fill-opacity="0.95" filter="url(#b1)"/>
<rect x="448.6" y="335.2" width="8.6" height="2.6" rx="1.3" fill="#111" fill-opacity="0.88" filter="url(#b1)"/>
<rect x="459.6" y="278.7" width="8.7" height="3" rx="1.5" fill="#111" fill-opacity="0.9" filter="url(#b1)"/>
<rect x="459.6" y="285" width="8.7" height="2" rx="1" fill="#111" fill-opacity="0.12" filter="url(#b1)"/>
<rect x="459.6" y="299" width="8.7" height="3" rx="1.5" fill="#111" fill-opacity="0.92" filter="url(#b1)"/>
<rect x="459.6" y="314.5" width="8.7" height="2.2" rx="1.1" fill="#111" fill-opacity="0.75" filter="url(#b1)"/>
<rect x="459.6" y="319.4" width="8.7" height="2" rx="1" fill="#111" fill-opacity="0.15" filter="url(#b1)"/>
<rect x="459.6" y="335.2" width="8.7" height="2.6" rx="1.3" fill="#111" fill-opacity="0.88" filter="url(#b1)"/>
<rect x="470.2" y="279.1" width="8.6" height="3" rx="1.5" fill="#111" fill-opacity="0.9" filter="url(#b1)"/>
<rect x="470.2" y="285" width="8.6" height="2" rx="1" fill="#111" fill-opacity="0.5" filter="url(#b1)"/>
<rect x="470.2" y="299.35" width="8.6" height="2.3" rx="1.15" fill="#111" fill-opacity="0.83" filter="url(#b1)"/>
<rect x="470.2" y="314.5" width="8.6" height="2.2" rx="1.1" fill="#111" fill-opacity="0.7" filter="url(#b1)"/>
<rect x="470.2" y="319.4" width="8.6" height="2" rx="1" fill="#111" fill-opacity="0.5" filter="url(#b1)"/>
<rect x="470.2" y="335.2" width="8.6" height="2.6" rx="1.3" fill="#111" fill-opacity="0.88" filter="url(#b1)"/>
<rect x="480.7" y="279.5" width="8.8" height="3" rx="1.5" fill="#111" fill-opacity="0.95" filter="url(#b1)"/>
<rect x="480.7" y="285.4" width="8.8" height="2" rx="1" fill="#111" fill-opacity="0.12" filter="url(#b1)"/>
<rect x="480.7" y="299.35" width="8.8" height="2.3" rx="1.15" fill="#111" fill-opacity="0.83" filter="url(#b1)"/>
<rect x="480.7" y="314.5" width="8.8" height="2.2" rx="1.1" fill="#111" fill-opacity="0.65" filter="url(#b1)"/>
<rect x="480.7" y="319.4" width="8.8" height="2" rx="1" fill="#111" fill-opacity="0.15" filter="url(#b1)"/>
<rect x="480.7" y="335.2" width="8.8" height="2.6" rx="1.3" fill="#111" fill-opacity="0.88" filter="url(#b1)"/>
<rect x="491.4" y="280.9" width="8.8" height="3" rx="1.5" fill="#111" fill-opacity="0.9" filter="url(#b1)"/>
<rect x="491.4" y="285.8" width="8.8" height="3.4" rx="1.7" fill="#111" fill-opacity="0.95" filter="url(#b1)"/>
<rect x="491.4" y="299.35" width="8.8" height="2.3" rx="1.15" fill="#111" fill-opacity="0.78" filter="url(#b1)"/>
<rect x="491.4" y="314.5" width="8.8" height="2.2" rx="1.1" fill="#111" fill-opacity="0.35" filter="url(#b1)"/>
<rect x="491.4" y="318.7" width="8.8" height="3.4" rx="1.7" fill="#111" fill-opacity="0.95" filter="url(#b1)"/>
<rect x="491.4" y="335.2" width="8.8" height="2.6" rx="1.3" fill="#111" fill-opacity="0.88" filter="url(#b1)"/>
<line x1="506.2" y1="272.5" x2="506.2" y2="305.6" stroke="#888" stroke-width="1" />
<line x1="506.2" y1="308.5" x2="506.2" y2="340" stroke="#888" stroke-width="1" />
<text x="512.71" y="288.6" font-size="7" text-anchor="middle" transform="rotate(-90 512.71 288.6)" font-weight="bold" fill="#111" stroke="#111" textLength="27" lengthAdjust="spacingAndGlyphs">MM.1S</text>
<text x="512.71" y="324.3" font-size="7" text-anchor="middle" transform="rotate(-90 512.71 324.3)" font-weight="bold" fill="#111" stroke="#111" textLength="28.5" lengthAdjust="spacingAndGlyphs">OPM-2</text>
</g>
<rect x="0" y="0" width="520" height="1.5" fill="#1a1a1a"/>
<rect x="0" y="0" width="1.5" height="351" fill="#1a1a1a"/>
<rect x="518.8" y="0" width="1.2" height="351" fill="#1a1a1a"/>
<rect x="0" y="349.6" width="520" height="1.4" fill="#1a1a1a"/>
</svg>
</body></html>
